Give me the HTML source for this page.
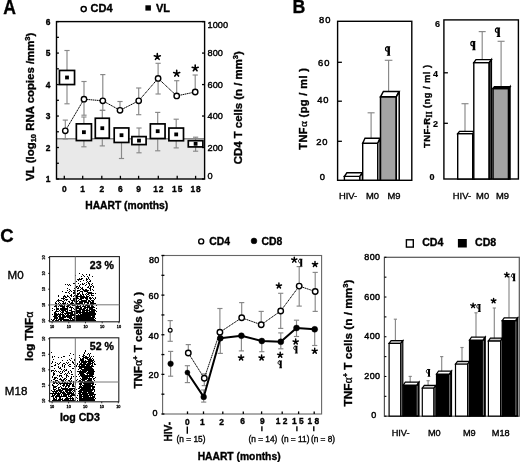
<!DOCTYPE html>
<html><head><meta charset="utf-8"><style>
html,body{margin:0;padding:0;background:#fff;width:520px;height:462px;overflow:hidden}
svg{display:block;font-family:"Liberation Sans",sans-serif;will-change:transform}
</style></head><body>
<svg width="520" height="462" viewBox="0 0 520 462">
<defs><filter id="bl" x="-5%" y="-5%" width="110%" height="110%"><feGaussianBlur stdDeviation="0.35"/></filter></defs>
<rect width="520" height="462" fill="#fff"/>
<text transform="translate(3.3 13.5) scale(1 1.1)" font-size="17.6" font-weight="bold" stroke="#000" stroke-width="0.3">A</text>
<circle cx="83.70" cy="9.10" r="2.55" fill="#fff" stroke="#000" stroke-width="1.5"/>
<text x="90.60" y="12.40" font-size="11" text-anchor="start" font-weight="bold" fill="#000" stroke="#000" stroke-width="0.35" >CD4</text>
<rect x="145.40" y="5.30" width="5.50" height="5.30" fill="#000" />
<text x="155.90" y="12.30" font-size="11" text-anchor="start" font-weight="bold" fill="#000" stroke="#000" stroke-width="0.35" >VL</text>
<rect x="56.50" y="138.50" width="148.10" height="40.50" fill="#e9e9e9" />
<line x1="56.50" y1="138.80" x2="204.60" y2="138.80" stroke="#8c8c8c" stroke-width="1.4" />
<rect x="56.50" y="21.60" width="148.10" height="157.40" fill="none" stroke="#000" stroke-width="1.4" />
<line x1="56.50" y1="179.00" x2="58.90" y2="179.00" stroke="#000" stroke-width="1.3" />
<line x1="56.50" y1="163.26" x2="58.90" y2="163.26" stroke="#000" stroke-width="1.3" />
<line x1="56.50" y1="147.52" x2="58.90" y2="147.52" stroke="#000" stroke-width="1.3" />
<line x1="56.50" y1="131.78" x2="58.90" y2="131.78" stroke="#000" stroke-width="1.3" />
<line x1="56.50" y1="116.04" x2="58.90" y2="116.04" stroke="#000" stroke-width="1.3" />
<line x1="56.50" y1="100.30" x2="58.90" y2="100.30" stroke="#000" stroke-width="1.3" />
<line x1="56.50" y1="84.56" x2="58.90" y2="84.56" stroke="#000" stroke-width="1.3" />
<line x1="56.50" y1="68.82" x2="58.90" y2="68.82" stroke="#000" stroke-width="1.3" />
<line x1="56.50" y1="53.08" x2="58.90" y2="53.08" stroke="#000" stroke-width="1.3" />
<line x1="56.50" y1="37.34" x2="58.90" y2="37.34" stroke="#000" stroke-width="1.3" />
<line x1="56.50" y1="21.60" x2="58.90" y2="21.60" stroke="#000" stroke-width="1.3" />
<text x="48.20" y="182.00" font-size="8.4" text-anchor="middle" font-weight="bold" fill="#000" stroke="#000" stroke-width="0.35" >1</text>
<text x="48.20" y="150.52" font-size="8.4" text-anchor="middle" font-weight="bold" fill="#000" stroke="#000" stroke-width="0.35" >2</text>
<text x="48.20" y="119.04" font-size="8.4" text-anchor="middle" font-weight="bold" fill="#000" stroke="#000" stroke-width="0.35" >3</text>
<text x="48.20" y="87.56" font-size="8.4" text-anchor="middle" font-weight="bold" fill="#000" stroke="#000" stroke-width="0.35" >4</text>
<text x="48.20" y="56.08" font-size="8.4" text-anchor="middle" font-weight="bold" fill="#000" stroke="#000" stroke-width="0.35" >5</text>
<text x="48.20" y="24.60" font-size="8.4" text-anchor="middle" font-weight="bold" fill="#000" stroke="#000" stroke-width="0.35" >6</text>
<line x1="202.00" y1="179.00" x2="204.60" y2="179.00" stroke="#000" stroke-width="1.3" />
<text x="207.60" y="179.30" font-size="9.2" text-anchor="start" font-weight="normal" fill="#000" stroke="#000" stroke-width="0.4" >0</text>
<line x1="202.00" y1="147.52" x2="204.60" y2="147.52" stroke="#000" stroke-width="1.3" />
<text x="207.60" y="150.82" font-size="9.2" text-anchor="start" font-weight="normal" fill="#000" stroke="#000" stroke-width="0.4" >200</text>
<line x1="202.00" y1="116.04" x2="204.60" y2="116.04" stroke="#000" stroke-width="1.3" />
<text x="207.60" y="119.34" font-size="9.2" text-anchor="start" font-weight="normal" fill="#000" stroke="#000" stroke-width="0.4" >400</text>
<line x1="202.00" y1="84.56" x2="204.60" y2="84.56" stroke="#000" stroke-width="1.3" />
<text x="207.60" y="87.86" font-size="9.2" text-anchor="start" font-weight="normal" fill="#000" stroke="#000" stroke-width="0.4" >600</text>
<line x1="202.00" y1="53.08" x2="204.60" y2="53.08" stroke="#000" stroke-width="1.3" />
<text x="207.60" y="56.38" font-size="9.2" text-anchor="start" font-weight="normal" fill="#000" stroke="#000" stroke-width="0.4" >800</text>
<line x1="202.00" y1="21.60" x2="204.60" y2="21.60" stroke="#000" stroke-width="1.3" />
<text x="207.60" y="28.20" font-size="9.2" text-anchor="start" font-weight="normal" fill="#000" stroke="#000" stroke-width="0.4" >1000</text>
<line x1="64.30" y1="179.00" x2="64.30" y2="175.80" stroke="#000" stroke-width="1.3" />
<text x="64.30" y="191.90" font-size="8.4" text-anchor="middle" font-weight="bold" fill="#000" stroke="#000" stroke-width="0.35" >0</text>
<line x1="82.70" y1="179.00" x2="82.70" y2="175.80" stroke="#000" stroke-width="1.3" />
<text x="82.70" y="191.90" font-size="8.4" text-anchor="middle" font-weight="bold" fill="#000" stroke="#000" stroke-width="0.35" >1</text>
<line x1="101.80" y1="179.00" x2="101.80" y2="175.80" stroke="#000" stroke-width="1.3" />
<text x="101.80" y="191.90" font-size="8.4" text-anchor="middle" font-weight="bold" fill="#000" stroke="#000" stroke-width="0.35" >2</text>
<line x1="120.40" y1="179.00" x2="120.40" y2="175.80" stroke="#000" stroke-width="1.3" />
<text x="120.40" y="191.90" font-size="8.4" text-anchor="middle" font-weight="bold" fill="#000" stroke="#000" stroke-width="0.35" >6</text>
<line x1="138.60" y1="179.00" x2="138.60" y2="175.80" stroke="#000" stroke-width="1.3" />
<text x="138.60" y="191.90" font-size="8.4" text-anchor="middle" font-weight="bold" fill="#000" stroke="#000" stroke-width="0.35" >9</text>
<line x1="158.30" y1="179.00" x2="158.30" y2="175.80" stroke="#000" stroke-width="1.3" />
<text x="158.80" y="191.90" font-size="8.4" text-anchor="middle" font-weight="bold" fill="#000" stroke="#000" stroke-width="0.35" letter-spacing="1.0">12</text>
<line x1="177.20" y1="179.00" x2="177.20" y2="175.80" stroke="#000" stroke-width="1.3" />
<text x="177.70" y="191.90" font-size="8.4" text-anchor="middle" font-weight="bold" fill="#000" stroke="#000" stroke-width="0.35" letter-spacing="1.0">15</text>
<line x1="195.60" y1="179.00" x2="195.60" y2="175.80" stroke="#000" stroke-width="1.3" />
<text x="196.10" y="191.90" font-size="8.4" text-anchor="middle" font-weight="bold" fill="#000" stroke="#000" stroke-width="0.35" letter-spacing="1.0">18</text>
<text x="126.70" y="208.60" font-size="10.3" text-anchor="middle" font-weight="bold" fill="#000" stroke="#000" stroke-width="0.35" >HAART (months)</text>
<text transform="translate(34.00 106.70) rotate(-90)" font-size="11.4" font-weight="bold" text-anchor="middle" stroke="#000" stroke-width="0.35" >VL  (log<tspan font-size="7.6" dy="2.2">10</tspan><tspan dy="-2.2"> RNA copies /mm</tspan><tspan font-size="7.6" dy="-4">3</tspan><tspan dy="4">)</tspan></text>
<text transform="translate(241.90 107.70) rotate(-90)" font-size="11.4" font-weight="bold" text-anchor="middle" stroke="#000" stroke-width="0.35" >CD4 T cells (n / mm<tspan font-size="7.6" dy="-4">3</tspan><tspan dy="4">)</tspan></text>
<line x1="67.00" y1="77.50" x2="67.00" y2="50.50" stroke="#888" stroke-width="1.15" />
<line x1="64.40" y1="50.50" x2="69.60" y2="50.50" stroke="#888" stroke-width="1.15" />
<line x1="67.00" y1="77.50" x2="67.00" y2="103.80" stroke="#888" stroke-width="1.15" />
<line x1="64.40" y1="103.80" x2="69.60" y2="103.80" stroke="#888" stroke-width="1.15" />
<line x1="83.90" y1="132.20" x2="83.90" y2="117.00" stroke="#888" stroke-width="1.15" />
<line x1="81.30" y1="117.00" x2="86.50" y2="117.00" stroke="#888" stroke-width="1.15" />
<line x1="83.90" y1="132.20" x2="83.90" y2="146.80" stroke="#888" stroke-width="1.15" />
<line x1="81.30" y1="146.80" x2="86.50" y2="146.80" stroke="#888" stroke-width="1.15" />
<line x1="102.30" y1="128.20" x2="102.30" y2="110.40" stroke="#888" stroke-width="1.15" />
<line x1="99.70" y1="110.40" x2="104.90" y2="110.40" stroke="#888" stroke-width="1.15" />
<line x1="102.30" y1="128.20" x2="102.30" y2="145.90" stroke="#888" stroke-width="1.15" />
<line x1="99.70" y1="145.90" x2="104.90" y2="145.90" stroke="#888" stroke-width="1.15" />
<line x1="121.50" y1="135.20" x2="121.50" y2="158.50" stroke="#888" stroke-width="1.15" />
<line x1="118.90" y1="158.50" x2="124.10" y2="158.50" stroke="#888" stroke-width="1.15" />
<line x1="139.00" y1="140.60" x2="139.00" y2="128.00" stroke="#888" stroke-width="1.15" />
<line x1="136.40" y1="128.00" x2="141.60" y2="128.00" stroke="#888" stroke-width="1.15" />
<line x1="139.00" y1="140.60" x2="139.00" y2="152.80" stroke="#888" stroke-width="1.15" />
<line x1="136.40" y1="152.80" x2="141.60" y2="152.80" stroke="#888" stroke-width="1.15" />
<line x1="157.70" y1="131.20" x2="157.70" y2="112.40" stroke="#888" stroke-width="1.15" />
<line x1="155.10" y1="112.40" x2="160.30" y2="112.40" stroke="#888" stroke-width="1.15" />
<line x1="157.70" y1="131.20" x2="157.70" y2="150.80" stroke="#888" stroke-width="1.15" />
<line x1="155.10" y1="150.80" x2="160.30" y2="150.80" stroke="#888" stroke-width="1.15" />
<line x1="176.20" y1="134.40" x2="176.20" y2="119.20" stroke="#888" stroke-width="1.15" />
<line x1="173.60" y1="119.20" x2="178.80" y2="119.20" stroke="#888" stroke-width="1.15" />
<line x1="176.20" y1="134.40" x2="176.20" y2="147.90" stroke="#888" stroke-width="1.15" />
<line x1="173.60" y1="147.90" x2="178.80" y2="147.90" stroke="#888" stroke-width="1.15" />
<line x1="195.60" y1="143.80" x2="195.60" y2="137.20" stroke="#888" stroke-width="1.15" />
<line x1="193.00" y1="137.20" x2="198.20" y2="137.20" stroke="#888" stroke-width="1.15" />
<line x1="195.60" y1="143.80" x2="195.60" y2="151.20" stroke="#888" stroke-width="1.15" />
<line x1="193.00" y1="151.20" x2="198.20" y2="151.20" stroke="#888" stroke-width="1.15" />
<line x1="65.30" y1="130.80" x2="65.30" y2="120.10" stroke="#888" stroke-width="1.15" />
<line x1="62.70" y1="120.10" x2="67.90" y2="120.10" stroke="#888" stroke-width="1.15" />
<line x1="65.30" y1="130.80" x2="65.30" y2="139.00" stroke="#888" stroke-width="1.15" />
<line x1="62.70" y1="139.00" x2="67.90" y2="139.00" stroke="#888" stroke-width="1.15" />
<line x1="84.00" y1="99.20" x2="84.00" y2="81.50" stroke="#888" stroke-width="1.15" />
<line x1="81.40" y1="81.50" x2="86.60" y2="81.50" stroke="#888" stroke-width="1.15" />
<line x1="84.00" y1="99.20" x2="84.00" y2="115.20" stroke="#888" stroke-width="1.15" />
<line x1="81.40" y1="115.20" x2="86.60" y2="115.20" stroke="#888" stroke-width="1.15" />
<line x1="102.80" y1="100.80" x2="102.80" y2="74.60" stroke="#888" stroke-width="1.15" />
<line x1="100.20" y1="74.60" x2="105.40" y2="74.60" stroke="#888" stroke-width="1.15" />
<line x1="102.80" y1="100.80" x2="102.80" y2="110.30" stroke="#888" stroke-width="1.15" />
<line x1="100.20" y1="110.30" x2="105.40" y2="110.30" stroke="#888" stroke-width="1.15" />
<line x1="120.00" y1="110.30" x2="120.00" y2="101.50" stroke="#888" stroke-width="1.15" />
<line x1="117.40" y1="101.50" x2="122.60" y2="101.50" stroke="#888" stroke-width="1.15" />
<line x1="138.70" y1="100.80" x2="138.70" y2="88.00" stroke="#888" stroke-width="1.15" />
<line x1="136.10" y1="88.00" x2="141.30" y2="88.00" stroke="#888" stroke-width="1.15" />
<line x1="138.70" y1="100.80" x2="138.70" y2="114.70" stroke="#888" stroke-width="1.15" />
<line x1="136.10" y1="114.70" x2="141.30" y2="114.70" stroke="#888" stroke-width="1.15" />
<line x1="158.10" y1="78.40" x2="158.10" y2="63.30" stroke="#888" stroke-width="1.15" />
<line x1="155.50" y1="63.30" x2="160.70" y2="63.30" stroke="#888" stroke-width="1.15" />
<line x1="158.10" y1="78.40" x2="158.10" y2="94.00" stroke="#888" stroke-width="1.15" />
<line x1="155.50" y1="94.00" x2="160.70" y2="94.00" stroke="#888" stroke-width="1.15" />
<line x1="176.70" y1="95.90" x2="176.70" y2="80.70" stroke="#888" stroke-width="1.15" />
<line x1="174.10" y1="80.70" x2="179.30" y2="80.70" stroke="#888" stroke-width="1.15" />
<line x1="195.20" y1="92.00" x2="195.20" y2="75.00" stroke="#888" stroke-width="1.15" />
<line x1="192.60" y1="75.00" x2="197.80" y2="75.00" stroke="#888" stroke-width="1.15" />
<rect x="59.45" y="70.45" width="15.10" height="14.10" fill="#fff" stroke="#000" stroke-width="1.7" />
<rect x="65.10" y="75.60" width="3.80" height="3.80" fill="#000" />
<rect x="76.35" y="123.85" width="15.10" height="16.70" fill="#fff" stroke="#000" stroke-width="1.7" />
<rect x="82.00" y="130.30" width="3.80" height="3.80" fill="#000" />
<rect x="95.30" y="118.25" width="14.00" height="19.90" fill="#fff" stroke="#000" stroke-width="1.7" />
<rect x="100.40" y="126.30" width="3.80" height="3.80" fill="#000" />
<rect x="114.20" y="127.95" width="14.60" height="14.50" fill="#fff" stroke="#000" stroke-width="1.7" />
<rect x="119.60" y="133.30" width="3.80" height="3.80" fill="#000" />
<rect x="131.90" y="136.60" width="14.20" height="8.00" fill="#fff" stroke="#000" stroke-width="1.7" />
<rect x="137.10" y="138.70" width="3.80" height="3.80" fill="#000" />
<rect x="150.35" y="123.90" width="14.70" height="14.60" fill="#fff" stroke="#000" stroke-width="1.7" />
<rect x="155.80" y="129.30" width="3.80" height="3.80" fill="#000" />
<rect x="168.90" y="128.05" width="14.60" height="12.70" fill="#fff" stroke="#000" stroke-width="1.7" />
<rect x="174.30" y="132.50" width="3.80" height="3.80" fill="#000" />
<rect x="188.30" y="140.70" width="14.60" height="6.20" fill="#fff" stroke="#000" stroke-width="1.7" />
<rect x="193.70" y="141.90" width="3.80" height="3.80" fill="#000" />
<polyline points="65.30,130.80 84.00,99.20 102.80,100.80 120.00,110.30 138.70,100.80 158.10,78.40 176.70,95.90 195.20,92.00" fill="none" stroke="#000" stroke-width="1.0" stroke-linejoin="round" stroke-dasharray="1.4 0.5"/>
<circle cx="65.30" cy="130.80" r="2.7" fill="#fff" stroke="#000" stroke-width="1.4"/>
<circle cx="84.00" cy="99.20" r="2.7" fill="#fff" stroke="#000" stroke-width="1.4"/>
<circle cx="102.80" cy="100.80" r="2.7" fill="#fff" stroke="#000" stroke-width="1.4"/>
<circle cx="120.00" cy="110.30" r="2.7" fill="#fff" stroke="#000" stroke-width="1.4"/>
<circle cx="138.70" cy="100.80" r="2.7" fill="#fff" stroke="#000" stroke-width="1.4"/>
<circle cx="158.10" cy="78.40" r="2.7" fill="#fff" stroke="#000" stroke-width="1.4"/>
<circle cx="176.70" cy="95.90" r="2.7" fill="#fff" stroke="#000" stroke-width="1.4"/>
<circle cx="195.20" cy="92.00" r="2.7" fill="#fff" stroke="#000" stroke-width="1.4"/>
<path d="M157.30 56.80L157.30 53.65M157.30 56.80L160.30 55.83M157.30 56.80L159.15 59.35M157.30 56.80L155.45 59.35M157.30 56.80L154.30 55.83" stroke="#000" stroke-width="1.6" stroke-linecap="round" fill="none"/>
<path d="M176.70 73.50L176.70 70.35M176.70 73.50L179.70 72.53M176.70 73.50L178.55 76.05M176.70 73.50L174.85 76.05M176.70 73.50L173.70 72.53" stroke="#000" stroke-width="1.6" stroke-linecap="round" fill="none"/>
<path d="M195.20 68.20L195.20 65.05M195.20 68.20L198.20 67.23M195.20 68.20L197.05 70.75M195.20 68.20L193.35 70.75M195.20 68.20L192.20 67.23" stroke="#000" stroke-width="1.6" stroke-linecap="round" fill="none"/>
<text transform="translate(292.6 12.9) scale(1 1.08)" font-size="17.8" font-weight="bold" stroke="#000" stroke-width="0.3">B</text>
<rect x="337.60" y="21.30" width="74.20" height="159.00" fill="none" stroke="#000" stroke-width="1.4" />
<line x1="337.60" y1="62.30" x2="341.90" y2="62.30" stroke="#000" stroke-width="1.3" />
<line x1="337.60" y1="101.20" x2="341.90" y2="101.20" stroke="#000" stroke-width="1.3" />
<line x1="337.60" y1="141.30" x2="341.90" y2="141.30" stroke="#000" stroke-width="1.3" />
<text x="325.15" y="22.90" font-size="9.4" text-anchor="middle" font-weight="normal" fill="#000" stroke="#000" stroke-width="0.45" letter-spacing="0.9">80</text>
<text x="324.15" y="66.20" font-size="9.4" text-anchor="middle" font-weight="normal" fill="#000" stroke="#000" stroke-width="0.45" letter-spacing="0.9">60</text>
<text x="323.30" y="102.80" font-size="9.4" text-anchor="middle" font-weight="normal" fill="#000" stroke="#000" stroke-width="0.45" letter-spacing="0.9">40</text>
<text x="322.35" y="145.20" font-size="9.4" text-anchor="middle" font-weight="normal" fill="#000" stroke="#000" stroke-width="0.45" letter-spacing="0.9">20</text>
<text x="322.75" y="180.30" font-size="9.4" text-anchor="middle" font-weight="normal" fill="#000" stroke="#000" stroke-width="0.45" letter-spacing="0.9">0</text>
<text transform="translate(307.00 108.60) rotate(-90)" font-size="11.0" font-weight="bold" text-anchor="middle" stroke="#000" stroke-width="0.35" letter-spacing="0.4">TNF<tspan font-weight="normal" font-family="Liberation Serif" stroke-width="0.35">&#945;</tspan> (pg / ml )</text>
<line x1="371.10" y1="143.00" x2="371.10" y2="112.80" stroke="#888" stroke-width="1.15" />
<line x1="367.60" y1="112.80" x2="374.60" y2="112.80" stroke="#888" stroke-width="1.15" />
<line x1="388.60" y1="92.00" x2="388.60" y2="60.30" stroke="#888" stroke-width="1.15" />
<line x1="384.80" y1="60.30" x2="392.40" y2="60.30" stroke="#888" stroke-width="1.15" />
<polygon points="344.40,176.40 359.90,176.40 359.90,180.30 344.40,180.30" fill="#fff" stroke="#000" stroke-width="1.4" stroke-linejoin="miter" />
<polygon points="344.40,176.40 346.90,172.80 362.40,172.80 359.90,176.40" fill="#fff" stroke="#000" stroke-width="1.4" stroke-linejoin="miter" />
<polygon points="359.90,176.40 362.40,172.80 362.40,180.30 359.90,180.30" fill="#fff" stroke="#000" stroke-width="1.4" stroke-linejoin="miter" />
<polygon points="362.70,143.20 377.80,143.20 377.80,180.30 362.70,180.30" fill="#fff" stroke="#000" stroke-width="1.4" stroke-linejoin="miter" />
<polygon points="362.70,143.20 365.00,138.20 380.10,138.20 377.80,143.20" fill="#fff" stroke="#000" stroke-width="1.4" stroke-linejoin="miter" />
<polygon points="377.80,143.20 380.10,138.20 380.10,180.30 377.80,180.30" fill="#fff" stroke="#000" stroke-width="1.4" stroke-linejoin="miter" />
<polygon points="380.50,96.80 396.30,96.80 396.30,180.30 380.50,180.30" fill="#a3a3a3" stroke="#000" stroke-width="1.5" stroke-linejoin="miter" />
<polygon points="380.50,96.80 383.40,91.40 399.20,91.40 396.30,96.80" fill="#fff" stroke="#000" stroke-width="1.5" stroke-linejoin="miter" />
<polygon points="396.30,96.80 399.20,91.40 399.20,180.30 396.30,180.30" fill="#fff" stroke="#000" stroke-width="1.5" stroke-linejoin="miter" />
<path d="M386.50 46.28L390.21 46.28L390.21 47.19L386.50 47.19ZM387.50 46.28L389.91 46.28L389.91 55.71L387.50 55.71ZM386.80 54.91L390.31 54.91L390.31 55.71L386.80 55.71Z" fill="#000"/>
<path d="M387.80 46.79C386.10 46.79 385.49 47.79 385.49 49.09C385.49 50.40 386.20 51.30 387.80 51.30" fill="none" stroke="#000" stroke-width="1.15"/>
<text x="348.10" y="198.90" font-size="9.4" text-anchor="middle" font-weight="normal" fill="#000" stroke="#000" stroke-width="0.35" >HIV-</text>
<text x="372.40" y="198.90" font-size="9.4" text-anchor="middle" font-weight="normal" fill="#000" stroke="#000" stroke-width="0.35" >M0</text>
<text x="394.00" y="198.90" font-size="9.4" text-anchor="middle" font-weight="normal" fill="#000" stroke="#000" stroke-width="0.35" >M9</text>
<rect x="443.90" y="19.90" width="74.50" height="159.10" fill="none" stroke="#000" stroke-width="1.4" />
<line x1="443.90" y1="72.80" x2="447.90" y2="72.80" stroke="#000" stroke-width="1.3" />
<line x1="443.90" y1="123.30" x2="447.90" y2="123.30" stroke="#000" stroke-width="1.3" />
<text x="437.50" y="26.60" font-size="9.0" text-anchor="middle" font-weight="bold" fill="#000" stroke="#000" stroke-width="0.2" >6</text>
<text x="435.50" y="76.50" font-size="9.0" text-anchor="middle" font-weight="bold" fill="#000" stroke="#000" stroke-width="0.2" >4</text>
<text x="435.60" y="127.10" font-size="9.0" text-anchor="middle" font-weight="bold" fill="#000" stroke="#000" stroke-width="0.2" >2</text>
<text x="432.10" y="179.70" font-size="9.0" text-anchor="middle" font-weight="bold" fill="#000" stroke="#000" stroke-width="0.2" >0</text>
<text transform="translate(430.00 106.20) rotate(-90)" font-size="9.4" font-weight="bold" text-anchor="middle" stroke="#000" stroke-width="0.35" letter-spacing="0.45">TNF-R<tspan font-size="7.2" dy="1.8" font-family="Liberation Serif">II</tspan><tspan dy="-1.8"> (ng / ml )</tspan></text>
<line x1="465.00" y1="133.00" x2="465.00" y2="103.70" stroke="#888" stroke-width="1.15" />
<line x1="461.50" y1="103.70" x2="468.50" y2="103.70" stroke="#888" stroke-width="1.15" />
<line x1="482.20" y1="61.00" x2="482.20" y2="31.60" stroke="#888" stroke-width="1.15" />
<line x1="478.70" y1="31.60" x2="485.70" y2="31.60" stroke="#888" stroke-width="1.15" />
<line x1="501.10" y1="87.00" x2="501.10" y2="41.30" stroke="#888" stroke-width="1.15" />
<line x1="497.60" y1="41.30" x2="504.60" y2="41.30" stroke="#888" stroke-width="1.15" />
<polygon points="457.70,133.60 472.70,133.60 472.70,179.00 457.70,179.00" fill="#fff" stroke="#000" stroke-width="1.4" stroke-linejoin="miter" />
<polygon points="457.70,133.60 459.50,131.40 474.50,131.40 472.70,133.60" fill="#fff" stroke="#000" stroke-width="1.4" stroke-linejoin="miter" />
<polygon points="472.70,133.60 474.50,131.40 474.50,179.00 472.70,179.00" fill="#555" stroke="#000" stroke-width="1.4" stroke-linejoin="miter" />
<polygon points="473.80,62.60 489.20,62.60 489.20,179.00 473.80,179.00" fill="#fff" stroke="#000" stroke-width="1.4" stroke-linejoin="miter" />
<polygon points="473.80,62.60 476.00,59.60 491.40,59.60 489.20,62.60" fill="#fff" stroke="#000" stroke-width="1.4" stroke-linejoin="miter" />
<polygon points="489.20,62.60 491.40,59.60 491.40,179.00 489.20,179.00" fill="#555" stroke="#000" stroke-width="1.4" stroke-linejoin="miter" />
<polygon points="493.00,88.60 508.60,88.60 508.60,179.00 493.00,179.00" fill="#a3a3a3" stroke="#000" stroke-width="1.5" stroke-linejoin="miter" />
<polygon points="493.00,88.60 494.40,86.80 510.00,86.80 508.60,88.60" fill="#000" stroke="#000" stroke-width="1.5" stroke-linejoin="miter" />
<polygon points="508.60,88.60 510.00,86.80 510.00,179.00 508.60,179.00" fill="#333" stroke="#000" stroke-width="1.5" stroke-linejoin="miter" />
<path d="M471.80 40.89L475.51 40.89L475.51 41.79L471.80 41.79ZM472.80 40.89L475.21 40.89L475.21 50.32L472.80 50.32ZM472.10 49.51L475.61 49.51L475.61 50.32L472.10 50.32Z" fill="#000"/>
<path d="M473.10 41.39C471.40 41.39 470.79 42.39 470.79 43.69C470.79 45.00 471.50 45.90 473.10 45.90" fill="none" stroke="#000" stroke-width="1.15"/>
<path d="M496.40 27.49L500.11 27.49L500.11 28.39L496.40 28.39ZM497.40 27.49L499.81 27.49L499.81 36.92L497.40 36.92ZM496.70 36.11L500.21 36.11L500.21 36.92L496.70 36.92Z" fill="#000"/>
<path d="M497.70 27.99C496.00 27.99 495.39 28.99 495.39 30.29C495.39 31.60 496.10 32.50 497.70 32.50" fill="none" stroke="#000" stroke-width="1.15"/>
<text x="461.90" y="198.90" font-size="9.4" text-anchor="middle" font-weight="normal" fill="#000" stroke="#000" stroke-width="0.35" >HIV-</text>
<text x="482.60" y="198.90" font-size="9.4" text-anchor="middle" font-weight="normal" fill="#000" stroke="#000" stroke-width="0.35" >M0</text>
<text x="502.50" y="198.90" font-size="9.4" text-anchor="middle" font-weight="normal" fill="#000" stroke="#000" stroke-width="0.35" >M9</text>
<text x="0.20" y="242.30" font-size="18.5" text-anchor="start" font-weight="bold" fill="#000" stroke="#000" stroke-width="0.35" >C</text>
<text x="7.60" y="279.20" font-size="11.6" text-anchor="start" font-weight="normal" fill="#000" stroke="#000" stroke-width="0.35" >M0</text>
<text x="4.80" y="395.30" font-size="11.6" text-anchor="start" font-weight="normal" fill="#000" stroke="#000" stroke-width="0.35" >M18</text>
<path d="M79 273h1v1h-1zM82 274h1v1h-1zM86 274h1v1h-1zM89 274h1v1h-1zM75 275h1v1h-1zM83 275h1v1h-1zM89 275h1v1h-1zM81 276h1v1h-1zM84 276h1v1h-1zM87 276h1v1h-1zM92 276h1v1h-1zM88 277h1v1h-1zM79 278h1v1h-1zM81 278h1v1h-1zM82 278h1v1h-1zM86 278h1v1h-1zM88 278h1v1h-1zM77 279h1v1h-1zM78 279h1v1h-1zM79 279h1v1h-1zM80 279h1v1h-1zM81 279h1v1h-1zM86 279h1v1h-1zM87 279h1v1h-1zM89 279h1v1h-1zM78 280h1v1h-1zM83 280h1v1h-1zM86 280h1v1h-1zM90 280h1v1h-1zM76 281h1v1h-1zM80 281h1v1h-1zM87 281h1v1h-1zM89 281h1v1h-1zM90 281h1v1h-1zM86 282h1v1h-1zM88 282h1v1h-1zM73 283h1v1h-1zM74 283h1v1h-1zM78 283h1v1h-1zM82 283h1v1h-1zM84 283h1v1h-1zM88 283h1v1h-1zM89 283h1v1h-1zM92 283h1v1h-1zM65 284h1v1h-1zM67 284h1v1h-1zM69 284h1v1h-1zM80 284h1v1h-1zM82 284h1v1h-1zM83 284h1v1h-1zM86 284h1v1h-1zM89 284h1v1h-1zM91 284h1v1h-1zM68 285h1v1h-1zM70 285h1v1h-1zM75 285h1v1h-1zM79 285h1v1h-1zM85 285h1v1h-1zM89 285h1v1h-1zM92 285h1v1h-1zM76 286h1v1h-1zM77 286h1v1h-1zM79 286h1v1h-1zM88 286h1v1h-1zM90 286h1v1h-1zM91 286h1v1h-1zM93 286h1v1h-1zM75 287h1v1h-1zM76 287h1v1h-1zM78 287h1v1h-1zM80 287h1v1h-1zM82 287h1v1h-1zM87 287h1v1h-1zM88 287h1v1h-1zM90 287h1v1h-1zM93 287h1v1h-1zM67 288h1v1h-1zM74 288h1v1h-1zM77 288h1v1h-1zM78 288h1v1h-1zM81 288h1v1h-1zM82 288h1v1h-1zM89 288h1v1h-1zM90 288h1v1h-1zM69 289h1v1h-1zM75 289h1v1h-1zM80 289h1v1h-1zM82 289h1v1h-1zM83 289h1v1h-1zM85 289h1v1h-1zM86 289h1v1h-1zM90 289h1v1h-1zM92 289h1v1h-1zM67 290h1v1h-1zM70 290h1v1h-1zM73 290h1v1h-1zM74 290h1v1h-1zM75 290h1v1h-1zM77 290h1v1h-1zM78 290h1v1h-1zM79 290h1v1h-1zM83 290h1v1h-1zM84 290h1v1h-1zM85 290h1v1h-1zM86 290h1v1h-1zM87 290h1v1h-1zM88 290h1v1h-1zM90 290h1v1h-1zM93 290h1v1h-1zM62 291h1v1h-1zM69 291h1v1h-1zM71 291h1v1h-1zM74 291h1v1h-1zM77 291h1v1h-1zM80 291h1v1h-1zM81 291h1v1h-1zM82 291h1v1h-1zM84 291h1v1h-1zM85 291h1v1h-1zM86 291h1v1h-1zM87 291h1v1h-1zM65 292h1v1h-1zM66 292h1v1h-1zM68 292h1v1h-1zM73 292h1v1h-1zM74 292h1v1h-1zM75 292h1v1h-1zM79 292h1v1h-1zM82 292h1v1h-1zM87 292h1v1h-1zM88 292h1v1h-1zM89 292h1v1h-1zM90 292h1v1h-1zM91 292h1v1h-1zM69 293h1v1h-1zM73 293h1v1h-1zM74 293h1v1h-1zM75 293h1v1h-1zM77 293h1v1h-1zM78 293h1v1h-1zM79 293h1v1h-1zM82 293h1v1h-1zM86 293h1v1h-1zM88 293h1v1h-1zM89 293h1v1h-1zM90 293h1v1h-1zM91 293h1v1h-1zM92 293h1v1h-1zM93 293h1v1h-1zM95 293h1v1h-1zM71 294h1v1h-1zM75 294h1v1h-1zM77 294h1v1h-1zM78 294h1v1h-1zM80 294h1v1h-1zM82 294h1v1h-1zM83 294h1v1h-1zM85 294h1v1h-1zM87 294h1v1h-1zM88 294h1v1h-1zM91 294h1v1h-1zM58 295h1v1h-1zM64 295h1v1h-1zM67 295h1v1h-1zM70 295h1v1h-1zM71 295h1v1h-1zM74 295h1v1h-1zM75 295h1v1h-1zM76 295h1v1h-1zM77 295h1v1h-1zM80 295h1v1h-1zM81 295h1v1h-1zM83 295h1v1h-1zM86 295h1v1h-1zM89 295h1v1h-1zM91 295h1v1h-1zM92 295h1v1h-1zM93 295h1v1h-1zM58 296h1v1h-1zM63 296h1v1h-1zM64 296h1v1h-1zM65 296h1v1h-1zM67 296h1v1h-1zM68 296h1v1h-1zM71 296h1v1h-1zM73 296h1v1h-1zM75 296h1v1h-1zM76 296h1v1h-1zM77 296h1v1h-1zM78 296h1v1h-1zM79 296h1v1h-1zM80 296h1v1h-1zM81 296h1v1h-1zM82 296h1v1h-1zM83 296h1v1h-1zM84 296h1v1h-1zM86 296h1v1h-1zM87 296h1v1h-1zM88 296h1v1h-1zM63 297h1v1h-1zM65 297h1v1h-1zM66 297h1v1h-1zM69 297h1v1h-1zM76 297h1v1h-1zM77 297h1v1h-1zM80 297h1v1h-1zM81 297h1v1h-1zM82 297h1v1h-1zM83 297h1v1h-1zM84 297h1v1h-1zM85 297h1v1h-1zM86 297h1v1h-1zM87 297h1v1h-1zM89 297h1v1h-1zM90 297h1v1h-1zM92 297h1v1h-1zM95 297h1v1h-1zM61 298h1v1h-1zM62 298h1v1h-1zM63 298h1v1h-1zM64 298h1v1h-1zM70 298h1v1h-1zM73 298h1v1h-1zM74 298h1v1h-1zM75 298h1v1h-1zM76 298h1v1h-1zM77 298h1v1h-1zM78 298h1v1h-1zM80 298h1v1h-1zM81 298h1v1h-1zM82 298h1v1h-1zM83 298h1v1h-1zM85 298h1v1h-1zM86 298h1v1h-1zM87 298h1v1h-1zM89 298h1v1h-1zM90 298h1v1h-1zM91 298h1v1h-1zM93 298h1v1h-1zM95 298h1v1h-1zM58 299h1v1h-1zM63 299h1v1h-1zM65 299h1v1h-1zM66 299h1v1h-1zM67 299h1v1h-1zM70 299h1v1h-1zM73 299h1v1h-1zM74 299h1v1h-1zM76 299h1v1h-1zM79 299h1v1h-1zM80 299h1v1h-1zM81 299h1v1h-1zM86 299h1v1h-1zM87 299h1v1h-1zM90 299h1v1h-1zM94 299h1v1h-1zM57 300h1v1h-1zM58 300h1v1h-1zM59 300h1v1h-1zM60 300h1v1h-1zM61 300h1v1h-1zM64 300h1v1h-1zM66 300h1v1h-1zM71 300h1v1h-1zM72 300h1v1h-1zM73 300h1v1h-1zM74 300h1v1h-1zM76 300h1v1h-1zM78 300h1v1h-1zM81 300h1v1h-1zM82 300h1v1h-1zM83 300h1v1h-1zM84 300h1v1h-1zM85 300h1v1h-1zM86 300h1v1h-1zM88 300h1v1h-1zM89 300h1v1h-1zM91 300h1v1h-1zM92 300h1v1h-1zM93 300h1v1h-1zM56 301h1v1h-1zM58 301h1v1h-1zM62 301h1v1h-1zM63 301h1v1h-1zM68 301h1v1h-1zM69 301h1v1h-1zM72 301h1v1h-1zM74 301h1v1h-1zM75 301h1v1h-1zM76 301h1v1h-1zM77 301h1v1h-1zM79 301h1v1h-1zM80 301h1v1h-1zM81 301h1v1h-1zM82 301h1v1h-1zM83 301h1v1h-1zM84 301h1v1h-1zM85 301h1v1h-1zM86 301h1v1h-1zM88 301h1v1h-1zM89 301h1v1h-1zM90 301h1v1h-1zM92 301h1v1h-1zM93 301h1v1h-1zM55 302h1v1h-1zM59 302h1v1h-1zM63 302h1v1h-1zM65 302h1v1h-1zM69 302h1v1h-1zM71 302h1v1h-1zM72 302h1v1h-1zM75 302h1v1h-1zM76 302h1v1h-1zM79 302h1v1h-1zM80 302h1v1h-1zM81 302h1v1h-1zM82 302h1v1h-1zM84 302h1v1h-1zM85 302h1v1h-1zM86 302h1v1h-1zM87 302h1v1h-1zM88 302h1v1h-1zM90 302h1v1h-1zM91 302h1v1h-1zM92 302h1v1h-1zM93 302h1v1h-1zM55 303h1v1h-1zM56 303h1v1h-1zM58 303h1v1h-1zM60 303h1v1h-1zM62 303h1v1h-1zM63 303h1v1h-1zM64 303h1v1h-1zM65 303h1v1h-1zM67 303h1v1h-1zM70 303h1v1h-1zM71 303h1v1h-1zM72 303h1v1h-1zM73 303h1v1h-1zM75 303h1v1h-1zM76 303h1v1h-1zM77 303h1v1h-1zM78 303h1v1h-1zM79 303h1v1h-1zM80 303h1v1h-1zM81 303h1v1h-1zM82 303h1v1h-1zM84 303h1v1h-1zM87 303h1v1h-1zM88 303h1v1h-1zM90 303h1v1h-1zM91 303h1v1h-1zM92 303h1v1h-1zM93 303h1v1h-1zM94 303h1v1h-1zM95 303h1v1h-1zM56 304h1v1h-1zM59 304h1v1h-1zM61 304h1v1h-1zM63 304h1v1h-1zM64 304h1v1h-1zM68 304h1v1h-1zM69 304h1v1h-1zM70 304h1v1h-1zM71 304h1v1h-1zM72 304h1v1h-1zM74 304h1v1h-1zM75 304h1v1h-1zM76 304h1v1h-1zM77 304h1v1h-1zM78 304h1v1h-1zM79 304h1v1h-1zM82 304h1v1h-1zM83 304h1v1h-1zM86 304h1v1h-1zM87 304h1v1h-1zM90 304h1v1h-1zM91 304h1v1h-1zM92 304h1v1h-1zM93 304h1v1h-1zM55 305h1v1h-1zM56 305h1v1h-1zM59 305h1v1h-1zM60 305h1v1h-1zM61 305h1v1h-1zM62 305h1v1h-1zM64 305h1v1h-1zM67 305h1v1h-1zM68 305h1v1h-1zM69 305h1v1h-1zM72 305h1v1h-1zM73 305h1v1h-1zM74 305h1v1h-1zM75 305h1v1h-1zM77 305h1v1h-1zM80 305h1v1h-1zM83 305h1v1h-1zM85 305h1v1h-1zM86 305h1v1h-1zM87 305h1v1h-1zM88 305h1v1h-1zM89 305h1v1h-1zM91 305h1v1h-1zM92 305h1v1h-1zM96 305h1v1h-1zM54 306h1v1h-1zM55 306h1v1h-1zM56 306h1v1h-1zM58 306h1v1h-1zM60 306h1v1h-1zM61 306h1v1h-1zM62 306h1v1h-1zM63 306h1v1h-1zM64 306h1v1h-1zM66 306h1v1h-1zM67 306h1v1h-1zM68 306h1v1h-1zM70 306h1v1h-1zM75 306h1v1h-1zM76 306h1v1h-1zM77 306h1v1h-1zM78 306h1v1h-1zM79 306h1v1h-1zM80 306h1v1h-1zM82 306h1v1h-1zM83 306h1v1h-1zM84 306h1v1h-1zM85 306h1v1h-1zM87 306h1v1h-1zM88 306h1v1h-1zM89 306h1v1h-1zM91 306h1v1h-1zM92 306h1v1h-1zM93 306h1v1h-1zM56 307h1v1h-1zM62 307h1v1h-1zM63 307h1v1h-1zM64 307h1v1h-1zM67 307h1v1h-1zM69 307h1v1h-1zM70 307h1v1h-1zM71 307h1v1h-1zM72 307h1v1h-1zM75 307h1v1h-1zM76 307h1v1h-1zM77 307h1v1h-1zM78 307h1v1h-1zM80 307h1v1h-1zM81 307h1v1h-1zM84 307h1v1h-1zM85 307h1v1h-1zM86 307h1v1h-1zM87 307h1v1h-1zM88 307h1v1h-1zM89 307h1v1h-1zM90 307h1v1h-1zM91 307h1v1h-1zM92 307h1v1h-1zM93 307h1v1h-1zM94 307h1v1h-1zM52 308h1v1h-1zM56 308h1v1h-1zM57 308h1v1h-1zM58 308h1v1h-1zM60 308h1v1h-1zM61 308h1v1h-1zM62 308h1v1h-1zM63 308h1v1h-1zM64 308h1v1h-1zM65 308h1v1h-1zM66 308h1v1h-1zM67 308h1v1h-1zM71 308h1v1h-1zM73 308h1v1h-1zM75 308h1v1h-1zM76 308h1v1h-1zM77 308h1v1h-1zM78 308h1v1h-1zM79 308h1v1h-1zM80 308h1v1h-1zM81 308h1v1h-1zM83 308h1v1h-1zM84 308h1v1h-1zM85 308h1v1h-1zM87 308h1v1h-1zM89 308h1v1h-1zM90 308h1v1h-1zM91 308h1v1h-1zM92 308h1v1h-1zM96 308h1v1h-1zM54 309h1v1h-1zM56 309h1v1h-1zM57 309h1v1h-1zM58 309h1v1h-1zM60 309h1v1h-1zM61 309h1v1h-1zM62 309h1v1h-1zM63 309h1v1h-1zM64 309h1v1h-1zM65 309h1v1h-1zM66 309h1v1h-1zM67 309h1v1h-1zM71 309h1v1h-1zM74 309h1v1h-1zM75 309h1v1h-1zM76 309h1v1h-1zM79 309h1v1h-1zM80 309h1v1h-1zM81 309h1v1h-1zM82 309h1v1h-1zM83 309h1v1h-1zM84 309h1v1h-1zM86 309h1v1h-1zM87 309h1v1h-1zM89 309h1v1h-1zM90 309h1v1h-1zM91 309h1v1h-1zM92 309h1v1h-1zM93 309h1v1h-1zM94 309h1v1h-1zM52 310h1v1h-1zM56 310h1v1h-1zM59 310h1v1h-1zM61 310h1v1h-1zM62 310h1v1h-1zM63 310h1v1h-1zM64 310h1v1h-1zM65 310h1v1h-1zM67 310h1v1h-1zM69 310h1v1h-1zM70 310h1v1h-1zM71 310h1v1h-1zM75 310h1v1h-1zM76 310h1v1h-1zM77 310h1v1h-1zM78 310h1v1h-1zM79 310h1v1h-1zM80 310h1v1h-1zM82 310h1v1h-1zM83 310h1v1h-1zM84 310h1v1h-1zM85 310h1v1h-1zM86 310h1v1h-1zM87 310h1v1h-1zM88 310h1v1h-1zM89 310h1v1h-1zM91 310h1v1h-1zM92 310h1v1h-1zM93 310h1v1h-1zM94 310h1v1h-1zM95 310h1v1h-1zM55 311h1v1h-1zM56 311h1v1h-1zM57 311h1v1h-1zM58 311h1v1h-1zM60 311h1v1h-1zM62 311h1v1h-1zM63 311h1v1h-1zM65 311h1v1h-1zM66 311h1v1h-1zM67 311h1v1h-1zM71 311h1v1h-1zM72 311h1v1h-1zM73 311h1v1h-1zM74 311h1v1h-1zM75 311h1v1h-1zM76 311h1v1h-1zM77 311h1v1h-1zM78 311h1v1h-1zM79 311h1v1h-1zM80 311h1v1h-1zM82 311h1v1h-1zM83 311h1v1h-1zM84 311h1v1h-1zM86 311h1v1h-1zM87 311h1v1h-1zM89 311h1v1h-1zM90 311h1v1h-1zM91 311h1v1h-1zM92 311h1v1h-1zM93 311h1v1h-1zM94 311h1v1h-1zM96 311h1v1h-1zM54 312h1v1h-1zM55 312h1v1h-1zM61 312h1v1h-1zM62 312h1v1h-1zM63 312h1v1h-1zM66 312h1v1h-1zM67 312h1v1h-1zM68 312h1v1h-1zM69 312h1v1h-1zM70 312h1v1h-1zM71 312h1v1h-1zM72 312h1v1h-1zM74 312h1v1h-1zM76 312h1v1h-1zM77 312h1v1h-1zM78 312h1v1h-1zM79 312h1v1h-1zM80 312h1v1h-1zM81 312h1v1h-1zM82 312h1v1h-1zM83 312h1v1h-1zM84 312h1v1h-1zM85 312h1v1h-1zM86 312h1v1h-1zM87 312h1v1h-1zM88 312h1v1h-1zM89 312h1v1h-1zM90 312h1v1h-1zM91 312h1v1h-1zM92 312h1v1h-1zM93 312h1v1h-1zM94 312h1v1h-1zM54 313h1v1h-1zM55 313h1v1h-1zM56 313h1v1h-1zM58 313h1v1h-1zM60 313h1v1h-1zM62 313h1v1h-1zM64 313h1v1h-1zM65 313h1v1h-1zM66 313h1v1h-1zM67 313h1v1h-1zM68 313h1v1h-1zM69 313h1v1h-1zM70 313h1v1h-1zM71 313h1v1h-1zM72 313h1v1h-1zM74 313h1v1h-1zM75 313h1v1h-1zM76 313h1v1h-1zM77 313h1v1h-1zM79 313h1v1h-1zM80 313h1v1h-1zM82 313h1v1h-1zM83 313h1v1h-1zM84 313h1v1h-1zM85 313h1v1h-1zM86 313h1v1h-1zM87 313h1v1h-1zM88 313h1v1h-1zM89 313h1v1h-1zM90 313h1v1h-1zM91 313h1v1h-1zM92 313h1v1h-1zM93 313h1v1h-1zM94 313h1v1h-1zM95 313h1v1h-1zM52 314h1v1h-1zM54 314h1v1h-1zM55 314h1v1h-1zM56 314h1v1h-1zM57 314h1v1h-1zM58 314h1v1h-1zM59 314h1v1h-1zM60 314h1v1h-1zM61 314h1v1h-1zM62 314h1v1h-1zM63 314h1v1h-1zM65 314h1v1h-1zM67 314h1v1h-1zM68 314h1v1h-1zM70 314h1v1h-1zM71 314h1v1h-1zM72 314h1v1h-1zM73 314h1v1h-1zM74 314h1v1h-1zM75 314h1v1h-1zM78 314h1v1h-1zM80 314h1v1h-1zM81 314h1v1h-1zM82 314h1v1h-1zM83 314h1v1h-1zM84 314h1v1h-1zM85 314h1v1h-1zM86 314h1v1h-1zM87 314h1v1h-1zM88 314h1v1h-1zM89 314h1v1h-1zM90 314h1v1h-1zM91 314h1v1h-1zM92 314h1v1h-1zM93 314h1v1h-1zM94 314h1v1h-1zM95 314h1v1h-1zM54 315h1v1h-1zM55 315h1v1h-1zM56 315h1v1h-1zM57 315h1v1h-1zM59 315h1v1h-1zM60 315h1v1h-1zM62 315h1v1h-1zM63 315h1v1h-1zM64 315h1v1h-1zM66 315h1v1h-1zM67 315h1v1h-1zM68 315h1v1h-1zM69 315h1v1h-1zM70 315h1v1h-1zM71 315h1v1h-1zM72 315h1v1h-1zM73 315h1v1h-1zM74 315h1v1h-1zM75 315h1v1h-1zM76 315h1v1h-1zM77 315h1v1h-1zM78 315h1v1h-1zM79 315h1v1h-1zM80 315h1v1h-1zM81 315h1v1h-1zM82 315h1v1h-1zM83 315h1v1h-1zM84 315h1v1h-1zM85 315h1v1h-1zM86 315h1v1h-1zM87 315h1v1h-1zM88 315h1v1h-1zM89 315h1v1h-1zM90 315h1v1h-1zM91 315h1v1h-1zM92 315h1v1h-1zM93 315h1v1h-1zM94 315h1v1h-1zM53 316h1v1h-1zM54 316h1v1h-1zM55 316h1v1h-1zM56 316h1v1h-1zM58 316h1v1h-1zM59 316h1v1h-1zM60 316h1v1h-1zM62 316h1v1h-1zM63 316h1v1h-1zM64 316h1v1h-1zM65 316h1v1h-1zM66 316h1v1h-1zM67 316h1v1h-1zM68 316h1v1h-1zM69 316h1v1h-1zM70 316h1v1h-1zM71 316h1v1h-1zM74 316h1v1h-1zM76 316h1v1h-1zM77 316h1v1h-1zM78 316h1v1h-1zM79 316h1v1h-1zM80 316h1v1h-1zM81 316h1v1h-1zM82 316h1v1h-1zM83 316h1v1h-1zM84 316h1v1h-1zM85 316h1v1h-1zM86 316h1v1h-1zM87 316h1v1h-1zM88 316h1v1h-1zM89 316h1v1h-1zM90 316h1v1h-1zM92 316h1v1h-1zM93 316h1v1h-1zM94 316h1v1h-1zM54 317h1v1h-1zM55 317h1v1h-1zM56 317h1v1h-1zM57 317h1v1h-1zM59 317h1v1h-1zM60 317h1v1h-1zM61 317h1v1h-1zM62 317h1v1h-1zM63 317h1v1h-1zM64 317h1v1h-1zM65 317h1v1h-1zM67 317h1v1h-1zM68 317h1v1h-1zM69 317h1v1h-1zM70 317h1v1h-1zM71 317h1v1h-1zM73 317h1v1h-1zM74 317h1v1h-1zM75 317h1v1h-1zM76 317h1v1h-1zM77 317h1v1h-1zM78 317h1v1h-1zM79 317h1v1h-1zM80 317h1v1h-1zM81 317h1v1h-1zM82 317h1v1h-1zM83 317h1v1h-1zM84 317h1v1h-1zM85 317h1v1h-1zM86 317h1v1h-1zM87 317h1v1h-1zM88 317h1v1h-1zM89 317h1v1h-1zM90 317h1v1h-1zM91 317h1v1h-1zM92 317h1v1h-1zM93 317h1v1h-1zM94 317h1v1h-1zM54 318h1v1h-1zM55 318h1v1h-1zM56 318h1v1h-1zM57 318h1v1h-1zM59 318h1v1h-1zM60 318h1v1h-1zM61 318h1v1h-1zM62 318h1v1h-1zM63 318h1v1h-1zM69 318h1v1h-1zM70 318h1v1h-1zM71 318h1v1h-1zM72 318h1v1h-1zM74 318h1v1h-1zM75 318h1v1h-1zM76 318h1v1h-1zM77 318h1v1h-1zM78 318h1v1h-1zM79 318h1v1h-1zM80 318h1v1h-1zM81 318h1v1h-1zM82 318h1v1h-1zM83 318h1v1h-1zM84 318h1v1h-1zM85 318h1v1h-1zM86 318h1v1h-1zM87 318h1v1h-1zM88 318h1v1h-1zM89 318h1v1h-1zM90 318h1v1h-1zM91 318h1v1h-1zM92 318h1v1h-1zM93 318h1v1h-1zM95 318h1v1h-1zM51 319h1v1h-1zM53 319h1v1h-1zM54 319h1v1h-1zM56 319h1v1h-1zM58 319h1v1h-1zM59 319h1v1h-1zM60 319h1v1h-1zM61 319h1v1h-1zM62 319h1v1h-1zM63 319h1v1h-1zM64 319h1v1h-1zM65 319h1v1h-1zM66 319h1v1h-1zM67 319h1v1h-1zM68 319h1v1h-1zM70 319h1v1h-1zM72 319h1v1h-1zM73 319h1v1h-1zM74 319h1v1h-1zM76 319h1v1h-1zM77 319h1v1h-1zM78 319h1v1h-1zM79 319h1v1h-1zM80 319h1v1h-1zM81 319h1v1h-1zM82 319h1v1h-1zM83 319h1v1h-1zM84 319h1v1h-1zM85 319h1v1h-1zM86 319h1v1h-1zM87 319h1v1h-1zM88 319h1v1h-1zM89 319h1v1h-1zM90 319h1v1h-1zM91 319h1v1h-1zM92 319h1v1h-1zM93 319h1v1h-1zM94 319h1v1h-1zM52 320h1v1h-1zM53 320h1v1h-1zM55 320h1v1h-1zM56 320h1v1h-1zM57 320h1v1h-1zM58 320h1v1h-1zM60 320h1v1h-1zM61 320h1v1h-1zM63 320h1v1h-1zM64 320h1v1h-1zM65 320h1v1h-1zM66 320h1v1h-1zM67 320h1v1h-1zM68 320h1v1h-1zM69 320h1v1h-1zM70 320h1v1h-1zM71 320h1v1h-1zM72 320h1v1h-1zM73 320h1v1h-1zM74 320h1v1h-1zM75 320h1v1h-1zM76 320h1v1h-1zM77 320h1v1h-1zM78 320h1v1h-1zM79 320h1v1h-1zM80 320h1v1h-1zM81 320h1v1h-1zM82 320h1v1h-1zM83 320h1v1h-1zM84 320h1v1h-1zM85 320h1v1h-1zM86 320h1v1h-1zM87 320h1v1h-1zM88 320h1v1h-1zM89 320h1v1h-1zM90 320h1v1h-1zM91 320h1v1h-1zM92 320h1v1h-1zM93 320h1v1h-1zM94 320h1v1h-1zM95 320h1v1h-1z" fill="#000" filter="url(#bl)"/>
<rect x="49.60" y="256.60" width="69.80" height="65.20" fill="none" stroke="#222" stroke-width="1.1" />
<line x1="75.30" y1="256.60" x2="75.30" y2="321.80" stroke="#777" stroke-width="1.0" />
<line x1="49.60" y1="304.80" x2="119.40" y2="304.80" stroke="#777" stroke-width="1.0" />
<text x="89.80" y="269.00" font-size="10.6" text-anchor="start" font-weight="bold" fill="#000" stroke="#000" stroke-width="0.35" >23 %</text>
<text x="52.10" y="328.00" font-size="3.8" text-anchor="middle" font-weight="normal" fill="#000" stroke="#000" stroke-width="0.3" >10</text>
<text transform="translate(45.40 320.80) rotate(-90)" font-size="3.8" text-anchor="middle" stroke="#000" stroke-width="0.3">10</text>
<line x1="52.10" y1="321.80" x2="52.10" y2="323.30" stroke="#000" stroke-width="0.8" />
<line x1="48.10" y1="320.80" x2="49.60" y2="320.80" stroke="#000" stroke-width="0.8" />
<text x="68.80" y="328.00" font-size="3.8" text-anchor="middle" font-weight="normal" fill="#000" stroke="#000" stroke-width="0.3" >10</text>
<text transform="translate(45.40 305.00) rotate(-90)" font-size="3.8" text-anchor="middle" stroke="#000" stroke-width="0.3">10</text>
<line x1="68.80" y1="321.80" x2="68.80" y2="323.30" stroke="#000" stroke-width="0.8" />
<line x1="48.10" y1="305.00" x2="49.60" y2="305.00" stroke="#000" stroke-width="0.8" />
<text x="85.50" y="328.00" font-size="3.8" text-anchor="middle" font-weight="normal" fill="#000" stroke="#000" stroke-width="0.3" >10</text>
<text transform="translate(45.40 289.20) rotate(-90)" font-size="3.8" text-anchor="middle" stroke="#000" stroke-width="0.3">10</text>
<line x1="85.50" y1="321.80" x2="85.50" y2="323.30" stroke="#000" stroke-width="0.8" />
<line x1="48.10" y1="289.20" x2="49.60" y2="289.20" stroke="#000" stroke-width="0.8" />
<text x="102.20" y="328.00" font-size="3.8" text-anchor="middle" font-weight="normal" fill="#000" stroke="#000" stroke-width="0.3" >10</text>
<text transform="translate(45.40 273.40) rotate(-90)" font-size="3.8" text-anchor="middle" stroke="#000" stroke-width="0.3">10</text>
<line x1="102.20" y1="321.80" x2="102.20" y2="323.30" stroke="#000" stroke-width="0.8" />
<line x1="48.10" y1="273.40" x2="49.60" y2="273.40" stroke="#000" stroke-width="0.8" />
<text x="118.90" y="328.00" font-size="3.8" text-anchor="middle" font-weight="normal" fill="#000" stroke="#000" stroke-width="0.3" >10</text>
<text transform="translate(45.40 257.60) rotate(-90)" font-size="3.8" text-anchor="middle" stroke="#000" stroke-width="0.3">10</text>
<line x1="118.90" y1="321.80" x2="118.90" y2="323.30" stroke="#000" stroke-width="0.8" />
<line x1="48.10" y1="257.60" x2="49.60" y2="257.60" stroke="#000" stroke-width="0.8" />
<path d="M85 350h1v1h-1zM85 351h1v1h-1zM51 352h1v1h-1zM84 352h1v1h-1zM70 353h1v1h-1zM84 353h1v1h-1zM88 353h1v1h-1zM90 353h1v1h-1zM73 354h1v1h-1zM83 354h1v1h-1zM87 354h1v1h-1zM89 354h1v1h-1zM69 355h1v1h-1zM79 355h1v1h-1zM83 355h1v1h-1zM84 355h1v1h-1zM89 355h1v1h-1zM52 356h1v1h-1zM54 356h1v1h-1zM63 356h1v1h-1zM64 356h1v1h-1zM82 356h1v1h-1zM83 356h1v1h-1zM85 356h1v1h-1zM86 356h1v1h-1zM89 356h1v1h-1zM91 356h1v1h-1zM93 356h1v1h-1zM52 357h1v1h-1zM58 357h1v1h-1zM61 357h1v1h-1zM79 357h1v1h-1zM83 357h1v1h-1zM84 357h1v1h-1zM85 357h1v1h-1zM86 357h1v1h-1zM87 357h1v1h-1zM88 357h1v1h-1zM90 357h1v1h-1zM71 358h1v1h-1zM80 358h1v1h-1zM82 358h1v1h-1zM83 358h1v1h-1zM85 358h1v1h-1zM86 358h1v1h-1zM87 358h1v1h-1zM89 358h1v1h-1zM90 358h1v1h-1zM92 358h1v1h-1zM53 359h1v1h-1zM69 359h1v1h-1zM74 359h1v1h-1zM80 359h1v1h-1zM81 359h1v1h-1zM82 359h1v1h-1zM83 359h1v1h-1zM87 359h1v1h-1zM88 359h1v1h-1zM89 359h1v1h-1zM90 359h1v1h-1zM91 359h1v1h-1zM93 359h1v1h-1zM62 360h1v1h-1zM67 360h1v1h-1zM70 360h1v1h-1zM74 360h1v1h-1zM80 360h1v1h-1zM81 360h1v1h-1zM82 360h1v1h-1zM83 360h1v1h-1zM85 360h1v1h-1zM88 360h1v1h-1zM89 360h1v1h-1zM90 360h1v1h-1zM91 360h1v1h-1zM92 360h1v1h-1zM93 360h1v1h-1zM52 361h1v1h-1zM72 361h1v1h-1zM79 361h1v1h-1zM81 361h1v1h-1zM82 361h1v1h-1zM83 361h1v1h-1zM84 361h1v1h-1zM85 361h1v1h-1zM86 361h1v1h-1zM87 361h1v1h-1zM88 361h1v1h-1zM89 361h1v1h-1zM90 361h1v1h-1zM91 361h1v1h-1zM92 361h1v1h-1zM94 361h1v1h-1zM52 362h1v1h-1zM55 362h1v1h-1zM60 362h1v1h-1zM66 362h1v1h-1zM68 362h1v1h-1zM72 362h1v1h-1zM73 362h1v1h-1zM79 362h1v1h-1zM81 362h1v1h-1zM82 362h1v1h-1zM83 362h1v1h-1zM84 362h1v1h-1zM85 362h1v1h-1zM86 362h1v1h-1zM88 362h1v1h-1zM89 362h1v1h-1zM90 362h1v1h-1zM92 362h1v1h-1zM93 362h1v1h-1zM51 363h1v1h-1zM57 363h1v1h-1zM59 363h1v1h-1zM63 363h1v1h-1zM64 363h1v1h-1zM67 363h1v1h-1zM73 363h1v1h-1zM77 363h1v1h-1zM80 363h1v1h-1zM81 363h1v1h-1zM83 363h1v1h-1zM84 363h1v1h-1zM85 363h1v1h-1zM87 363h1v1h-1zM88 363h1v1h-1zM89 363h1v1h-1zM90 363h1v1h-1zM91 363h1v1h-1zM92 363h1v1h-1zM94 363h1v1h-1zM55 364h1v1h-1zM58 364h1v1h-1zM62 364h1v1h-1zM65 364h1v1h-1zM69 364h1v1h-1zM70 364h1v1h-1zM74 364h1v1h-1zM77 364h1v1h-1zM79 364h1v1h-1zM80 364h1v1h-1zM81 364h1v1h-1zM82 364h1v1h-1zM83 364h1v1h-1zM84 364h1v1h-1zM85 364h1v1h-1zM86 364h1v1h-1zM87 364h1v1h-1zM88 364h1v1h-1zM89 364h1v1h-1zM90 364h1v1h-1zM92 364h1v1h-1zM94 364h1v1h-1zM95 364h1v1h-1zM54 365h1v1h-1zM55 365h1v1h-1zM62 365h1v1h-1zM64 365h1v1h-1zM68 365h1v1h-1zM76 365h1v1h-1zM79 365h1v1h-1zM81 365h1v1h-1zM82 365h1v1h-1zM83 365h1v1h-1zM84 365h1v1h-1zM86 365h1v1h-1zM87 365h1v1h-1zM88 365h1v1h-1zM89 365h1v1h-1zM91 365h1v1h-1zM92 365h1v1h-1zM51 366h1v1h-1zM52 366h1v1h-1zM58 366h1v1h-1zM62 366h1v1h-1zM64 366h1v1h-1zM69 366h1v1h-1zM70 366h1v1h-1zM74 366h1v1h-1zM76 366h1v1h-1zM78 366h1v1h-1zM79 366h1v1h-1zM80 366h1v1h-1zM81 366h1v1h-1zM82 366h1v1h-1zM83 366h1v1h-1zM84 366h1v1h-1zM85 366h1v1h-1zM86 366h1v1h-1zM87 366h1v1h-1zM88 366h1v1h-1zM89 366h1v1h-1zM90 366h1v1h-1zM91 366h1v1h-1zM92 366h1v1h-1zM93 366h1v1h-1zM58 367h1v1h-1zM60 367h1v1h-1zM64 367h1v1h-1zM79 367h1v1h-1zM80 367h1v1h-1zM81 367h1v1h-1zM82 367h1v1h-1zM83 367h1v1h-1zM84 367h1v1h-1zM85 367h1v1h-1zM86 367h1v1h-1zM87 367h1v1h-1zM88 367h1v1h-1zM89 367h1v1h-1zM90 367h1v1h-1zM91 367h1v1h-1zM54 368h1v1h-1zM59 368h1v1h-1zM60 368h1v1h-1zM72 368h1v1h-1zM73 368h1v1h-1zM79 368h1v1h-1zM80 368h1v1h-1zM81 368h1v1h-1zM84 368h1v1h-1zM85 368h1v1h-1zM86 368h1v1h-1zM87 368h1v1h-1zM88 368h1v1h-1zM89 368h1v1h-1zM90 368h1v1h-1zM91 368h1v1h-1zM92 368h1v1h-1zM61 369h1v1h-1zM64 369h1v1h-1zM66 369h1v1h-1zM78 369h1v1h-1zM81 369h1v1h-1zM82 369h1v1h-1zM83 369h1v1h-1zM84 369h1v1h-1zM85 369h1v1h-1zM86 369h1v1h-1zM87 369h1v1h-1zM88 369h1v1h-1zM89 369h1v1h-1zM90 369h1v1h-1zM91 369h1v1h-1zM92 369h1v1h-1zM93 369h1v1h-1zM51 370h1v1h-1zM52 370h1v1h-1zM53 370h1v1h-1zM55 370h1v1h-1zM63 370h1v1h-1zM65 370h1v1h-1zM66 370h1v1h-1zM70 370h1v1h-1zM80 370h1v1h-1zM82 370h1v1h-1zM83 370h1v1h-1zM84 370h1v1h-1zM85 370h1v1h-1zM86 370h1v1h-1zM87 370h1v1h-1zM88 370h1v1h-1zM89 370h1v1h-1zM90 370h1v1h-1zM91 370h1v1h-1zM92 370h1v1h-1zM93 370h1v1h-1zM51 371h1v1h-1zM54 371h1v1h-1zM56 371h1v1h-1zM58 371h1v1h-1zM60 371h1v1h-1zM62 371h1v1h-1zM64 371h1v1h-1zM68 371h1v1h-1zM71 371h1v1h-1zM77 371h1v1h-1zM78 371h1v1h-1zM79 371h1v1h-1zM80 371h1v1h-1zM81 371h1v1h-1zM82 371h1v1h-1zM83 371h1v1h-1zM84 371h1v1h-1zM85 371h1v1h-1zM86 371h1v1h-1zM88 371h1v1h-1zM89 371h1v1h-1zM90 371h1v1h-1zM91 371h1v1h-1zM92 371h1v1h-1zM93 371h1v1h-1zM94 371h1v1h-1zM53 372h1v1h-1zM59 372h1v1h-1zM62 372h1v1h-1zM68 372h1v1h-1zM71 372h1v1h-1zM79 372h1v1h-1zM80 372h1v1h-1zM81 372h1v1h-1zM82 372h1v1h-1zM83 372h1v1h-1zM84 372h1v1h-1zM85 372h1v1h-1zM87 372h1v1h-1zM88 372h1v1h-1zM89 372h1v1h-1zM90 372h1v1h-1zM91 372h1v1h-1zM92 372h1v1h-1zM93 372h1v1h-1zM53 373h1v1h-1zM54 373h1v1h-1zM60 373h1v1h-1zM61 373h1v1h-1zM65 373h1v1h-1zM67 373h1v1h-1zM69 373h1v1h-1zM79 373h1v1h-1zM80 373h1v1h-1zM81 373h1v1h-1zM82 373h1v1h-1zM83 373h1v1h-1zM86 373h1v1h-1zM87 373h1v1h-1zM88 373h1v1h-1zM89 373h1v1h-1zM90 373h1v1h-1zM91 373h1v1h-1zM92 373h1v1h-1zM93 373h1v1h-1zM53 374h1v1h-1zM54 374h1v1h-1zM64 374h1v1h-1zM66 374h1v1h-1zM71 374h1v1h-1zM72 374h1v1h-1zM78 374h1v1h-1zM80 374h1v1h-1zM81 374h1v1h-1zM82 374h1v1h-1zM83 374h1v1h-1zM84 374h1v1h-1zM87 374h1v1h-1zM89 374h1v1h-1zM90 374h1v1h-1zM91 374h1v1h-1zM92 374h1v1h-1zM93 374h1v1h-1zM53 375h1v1h-1zM57 375h1v1h-1zM59 375h1v1h-1zM60 375h1v1h-1zM61 375h1v1h-1zM66 375h1v1h-1zM67 375h1v1h-1zM80 375h1v1h-1zM81 375h1v1h-1zM82 375h1v1h-1zM83 375h1v1h-1zM84 375h1v1h-1zM85 375h1v1h-1zM86 375h1v1h-1zM87 375h1v1h-1zM88 375h1v1h-1zM89 375h1v1h-1zM90 375h1v1h-1zM91 375h1v1h-1zM92 375h1v1h-1zM52 376h1v1h-1zM59 376h1v1h-1zM61 376h1v1h-1zM66 376h1v1h-1zM68 376h1v1h-1zM71 376h1v1h-1zM73 376h1v1h-1zM76 376h1v1h-1zM79 376h1v1h-1zM81 376h1v1h-1zM82 376h1v1h-1zM83 376h1v1h-1zM84 376h1v1h-1zM85 376h1v1h-1zM86 376h1v1h-1zM87 376h1v1h-1zM88 376h1v1h-1zM89 376h1v1h-1zM90 376h1v1h-1zM91 376h1v1h-1zM92 376h1v1h-1zM93 376h1v1h-1zM52 377h1v1h-1zM54 377h1v1h-1zM55 377h1v1h-1zM56 377h1v1h-1zM62 377h1v1h-1zM66 377h1v1h-1zM71 377h1v1h-1zM82 377h1v1h-1zM83 377h1v1h-1zM84 377h1v1h-1zM85 377h1v1h-1zM86 377h1v1h-1zM87 377h1v1h-1zM89 377h1v1h-1zM92 377h1v1h-1zM95 377h1v1h-1zM54 378h1v1h-1zM55 378h1v1h-1zM57 378h1v1h-1zM60 378h1v1h-1zM64 378h1v1h-1zM65 378h1v1h-1zM70 378h1v1h-1zM71 378h1v1h-1zM80 378h1v1h-1zM82 378h1v1h-1zM83 378h1v1h-1zM84 378h1v1h-1zM85 378h1v1h-1zM86 378h1v1h-1zM87 378h1v1h-1zM88 378h1v1h-1zM89 378h1v1h-1zM90 378h1v1h-1zM91 378h1v1h-1zM93 378h1v1h-1zM94 378h1v1h-1zM53 379h1v1h-1zM54 379h1v1h-1zM59 379h1v1h-1zM60 379h1v1h-1zM61 379h1v1h-1zM63 379h1v1h-1zM64 379h1v1h-1zM66 379h1v1h-1zM70 379h1v1h-1zM77 379h1v1h-1zM81 379h1v1h-1zM82 379h1v1h-1zM83 379h1v1h-1zM84 379h1v1h-1zM85 379h1v1h-1zM86 379h1v1h-1zM88 379h1v1h-1zM89 379h1v1h-1zM90 379h1v1h-1zM91 379h1v1h-1zM93 379h1v1h-1zM51 380h1v1h-1zM55 380h1v1h-1zM56 380h1v1h-1zM57 380h1v1h-1zM61 380h1v1h-1zM62 380h1v1h-1zM63 380h1v1h-1zM65 380h1v1h-1zM68 380h1v1h-1zM69 380h1v1h-1zM71 380h1v1h-1zM76 380h1v1h-1zM79 380h1v1h-1zM80 380h1v1h-1zM82 380h1v1h-1zM83 380h1v1h-1zM84 380h1v1h-1zM87 380h1v1h-1zM88 380h1v1h-1zM89 380h1v1h-1zM90 380h1v1h-1zM91 380h1v1h-1zM94 380h1v1h-1zM53 381h1v1h-1zM55 381h1v1h-1zM58 381h1v1h-1zM62 381h1v1h-1zM63 381h1v1h-1zM69 381h1v1h-1zM70 381h1v1h-1zM71 381h1v1h-1zM73 381h1v1h-1zM78 381h1v1h-1zM79 381h1v1h-1zM80 381h1v1h-1zM81 381h1v1h-1zM82 381h1v1h-1zM84 381h1v1h-1zM85 381h1v1h-1zM86 381h1v1h-1zM87 381h1v1h-1zM88 381h1v1h-1zM89 381h1v1h-1zM90 381h1v1h-1zM91 381h1v1h-1zM92 381h1v1h-1zM53 382h1v1h-1zM54 382h1v1h-1zM55 382h1v1h-1zM56 382h1v1h-1zM58 382h1v1h-1zM59 382h1v1h-1zM62 382h1v1h-1zM64 382h1v1h-1zM65 382h1v1h-1zM67 382h1v1h-1zM70 382h1v1h-1zM73 382h1v1h-1zM75 382h1v1h-1zM80 382h1v1h-1zM81 382h1v1h-1zM82 382h1v1h-1zM83 382h1v1h-1zM84 382h1v1h-1zM85 382h1v1h-1zM86 382h1v1h-1zM87 382h1v1h-1zM88 382h1v1h-1zM89 382h1v1h-1zM90 382h1v1h-1zM91 382h1v1h-1zM92 382h1v1h-1zM93 382h1v1h-1zM53 383h1v1h-1zM54 383h1v1h-1zM56 383h1v1h-1zM57 383h1v1h-1zM59 383h1v1h-1zM60 383h1v1h-1zM61 383h1v1h-1zM62 383h1v1h-1zM63 383h1v1h-1zM64 383h1v1h-1zM65 383h1v1h-1zM66 383h1v1h-1zM67 383h1v1h-1zM68 383h1v1h-1zM69 383h1v1h-1zM70 383h1v1h-1zM71 383h1v1h-1zM73 383h1v1h-1zM75 383h1v1h-1zM79 383h1v1h-1zM80 383h1v1h-1zM81 383h1v1h-1zM83 383h1v1h-1zM84 383h1v1h-1zM85 383h1v1h-1zM86 383h1v1h-1zM87 383h1v1h-1zM88 383h1v1h-1zM89 383h1v1h-1zM90 383h1v1h-1zM91 383h1v1h-1zM92 383h1v1h-1zM93 383h1v1h-1zM52 384h1v1h-1zM58 384h1v1h-1zM60 384h1v1h-1zM63 384h1v1h-1zM64 384h1v1h-1zM66 384h1v1h-1zM67 384h1v1h-1zM69 384h1v1h-1zM70 384h1v1h-1zM72 384h1v1h-1zM73 384h1v1h-1zM75 384h1v1h-1zM79 384h1v1h-1zM80 384h1v1h-1zM81 384h1v1h-1zM84 384h1v1h-1zM85 384h1v1h-1zM86 384h1v1h-1zM87 384h1v1h-1zM88 384h1v1h-1zM89 384h1v1h-1zM90 384h1v1h-1zM92 384h1v1h-1zM93 384h1v1h-1zM95 384h1v1h-1zM52 385h1v1h-1zM53 385h1v1h-1zM57 385h1v1h-1zM62 385h1v1h-1zM63 385h1v1h-1zM64 385h1v1h-1zM66 385h1v1h-1zM67 385h1v1h-1zM68 385h1v1h-1zM69 385h1v1h-1zM72 385h1v1h-1zM73 385h1v1h-1zM80 385h1v1h-1zM82 385h1v1h-1zM83 385h1v1h-1zM84 385h1v1h-1zM85 385h1v1h-1zM86 385h1v1h-1zM87 385h1v1h-1zM88 385h1v1h-1zM89 385h1v1h-1zM90 385h1v1h-1zM91 385h1v1h-1zM92 385h1v1h-1zM53 386h1v1h-1zM54 386h1v1h-1zM55 386h1v1h-1zM56 386h1v1h-1zM60 386h1v1h-1zM63 386h1v1h-1zM65 386h1v1h-1zM66 386h1v1h-1zM68 386h1v1h-1zM69 386h1v1h-1zM72 386h1v1h-1zM73 386h1v1h-1zM74 386h1v1h-1zM79 386h1v1h-1zM80 386h1v1h-1zM81 386h1v1h-1zM83 386h1v1h-1zM84 386h1v1h-1zM85 386h1v1h-1zM86 386h1v1h-1zM87 386h1v1h-1zM88 386h1v1h-1zM89 386h1v1h-1zM90 386h1v1h-1zM91 386h1v1h-1zM92 386h1v1h-1zM93 386h1v1h-1zM94 386h1v1h-1zM53 387h1v1h-1zM54 387h1v1h-1zM55 387h1v1h-1zM58 387h1v1h-1zM59 387h1v1h-1zM61 387h1v1h-1zM65 387h1v1h-1zM68 387h1v1h-1zM75 387h1v1h-1zM79 387h1v1h-1zM80 387h1v1h-1zM81 387h1v1h-1zM82 387h1v1h-1zM83 387h1v1h-1zM84 387h1v1h-1zM85 387h1v1h-1zM86 387h1v1h-1zM87 387h1v1h-1zM88 387h1v1h-1zM89 387h1v1h-1zM90 387h1v1h-1zM92 387h1v1h-1zM93 387h1v1h-1zM94 387h1v1h-1zM53 388h1v1h-1zM56 388h1v1h-1zM58 388h1v1h-1zM61 388h1v1h-1zM62 388h1v1h-1zM63 388h1v1h-1zM64 388h1v1h-1zM65 388h1v1h-1zM66 388h1v1h-1zM67 388h1v1h-1zM69 388h1v1h-1zM70 388h1v1h-1zM71 388h1v1h-1zM72 388h1v1h-1zM73 388h1v1h-1zM74 388h1v1h-1zM78 388h1v1h-1zM79 388h1v1h-1zM81 388h1v1h-1zM82 388h1v1h-1zM83 388h1v1h-1zM84 388h1v1h-1zM85 388h1v1h-1zM86 388h1v1h-1zM87 388h1v1h-1zM88 388h1v1h-1zM89 388h1v1h-1zM90 388h1v1h-1zM92 388h1v1h-1zM93 388h1v1h-1zM53 389h1v1h-1zM54 389h1v1h-1zM55 389h1v1h-1zM58 389h1v1h-1zM59 389h1v1h-1zM60 389h1v1h-1zM62 389h1v1h-1zM63 389h1v1h-1zM64 389h1v1h-1zM65 389h1v1h-1zM66 389h1v1h-1zM67 389h1v1h-1zM68 389h1v1h-1zM69 389h1v1h-1zM70 389h1v1h-1zM71 389h1v1h-1zM72 389h1v1h-1zM74 389h1v1h-1zM76 389h1v1h-1zM80 389h1v1h-1zM81 389h1v1h-1zM82 389h1v1h-1zM83 389h1v1h-1zM84 389h1v1h-1zM85 389h1v1h-1zM86 389h1v1h-1zM87 389h1v1h-1zM88 389h1v1h-1zM89 389h1v1h-1zM90 389h1v1h-1zM91 389h1v1h-1zM92 389h1v1h-1zM93 389h1v1h-1zM94 389h1v1h-1zM51 390h1v1h-1zM54 390h1v1h-1zM56 390h1v1h-1zM57 390h1v1h-1zM58 390h1v1h-1zM59 390h1v1h-1zM60 390h1v1h-1zM61 390h1v1h-1zM62 390h1v1h-1zM65 390h1v1h-1zM66 390h1v1h-1zM67 390h1v1h-1zM68 390h1v1h-1zM69 390h1v1h-1zM70 390h1v1h-1zM71 390h1v1h-1zM73 390h1v1h-1zM74 390h1v1h-1zM79 390h1v1h-1zM80 390h1v1h-1zM81 390h1v1h-1zM82 390h1v1h-1zM83 390h1v1h-1zM84 390h1v1h-1zM85 390h1v1h-1zM86 390h1v1h-1zM87 390h1v1h-1zM88 390h1v1h-1zM89 390h1v1h-1zM90 390h1v1h-1zM91 390h1v1h-1zM92 390h1v1h-1zM94 390h1v1h-1zM52 391h1v1h-1zM53 391h1v1h-1zM54 391h1v1h-1zM55 391h1v1h-1zM56 391h1v1h-1zM57 391h1v1h-1zM59 391h1v1h-1zM60 391h1v1h-1zM61 391h1v1h-1zM63 391h1v1h-1zM65 391h1v1h-1zM66 391h1v1h-1zM67 391h1v1h-1zM69 391h1v1h-1zM70 391h1v1h-1zM72 391h1v1h-1zM74 391h1v1h-1zM75 391h1v1h-1zM78 391h1v1h-1zM79 391h1v1h-1zM80 391h1v1h-1zM81 391h1v1h-1zM83 391h1v1h-1zM84 391h1v1h-1zM85 391h1v1h-1zM86 391h1v1h-1zM87 391h1v1h-1zM88 391h1v1h-1zM89 391h1v1h-1zM90 391h1v1h-1zM91 391h1v1h-1zM94 391h1v1h-1zM53 392h1v1h-1zM55 392h1v1h-1zM56 392h1v1h-1zM58 392h1v1h-1zM60 392h1v1h-1zM61 392h1v1h-1zM62 392h1v1h-1zM63 392h1v1h-1zM64 392h1v1h-1zM66 392h1v1h-1zM67 392h1v1h-1zM68 392h1v1h-1zM69 392h1v1h-1zM70 392h1v1h-1zM71 392h1v1h-1zM73 392h1v1h-1zM79 392h1v1h-1zM80 392h1v1h-1zM81 392h1v1h-1zM82 392h1v1h-1zM83 392h1v1h-1zM84 392h1v1h-1zM85 392h1v1h-1zM86 392h1v1h-1zM88 392h1v1h-1zM89 392h1v1h-1zM90 392h1v1h-1zM91 392h1v1h-1zM92 392h1v1h-1zM93 392h1v1h-1zM50 393h1v1h-1zM51 393h1v1h-1zM52 393h1v1h-1zM53 393h1v1h-1zM54 393h1v1h-1zM55 393h1v1h-1zM56 393h1v1h-1zM57 393h1v1h-1zM58 393h1v1h-1zM59 393h1v1h-1zM60 393h1v1h-1zM62 393h1v1h-1zM63 393h1v1h-1zM64 393h1v1h-1zM65 393h1v1h-1zM67 393h1v1h-1zM68 393h1v1h-1zM69 393h1v1h-1zM70 393h1v1h-1zM71 393h1v1h-1zM72 393h1v1h-1zM73 393h1v1h-1zM75 393h1v1h-1zM78 393h1v1h-1zM79 393h1v1h-1zM80 393h1v1h-1zM82 393h1v1h-1zM83 393h1v1h-1zM84 393h1v1h-1zM85 393h1v1h-1zM86 393h1v1h-1zM87 393h1v1h-1zM88 393h1v1h-1zM89 393h1v1h-1zM90 393h1v1h-1zM91 393h1v1h-1zM92 393h1v1h-1zM93 393h1v1h-1zM52 394h1v1h-1zM54 394h1v1h-1zM55 394h1v1h-1zM57 394h1v1h-1zM58 394h1v1h-1zM59 394h1v1h-1zM61 394h1v1h-1zM63 394h1v1h-1zM64 394h1v1h-1zM65 394h1v1h-1zM66 394h1v1h-1zM67 394h1v1h-1zM68 394h1v1h-1zM69 394h1v1h-1zM71 394h1v1h-1zM72 394h1v1h-1zM73 394h1v1h-1zM74 394h1v1h-1zM79 394h1v1h-1zM80 394h1v1h-1zM81 394h1v1h-1zM82 394h1v1h-1zM83 394h1v1h-1zM84 394h1v1h-1zM85 394h1v1h-1zM86 394h1v1h-1zM87 394h1v1h-1zM89 394h1v1h-1zM90 394h1v1h-1zM91 394h1v1h-1zM92 394h1v1h-1zM93 394h1v1h-1zM94 394h1v1h-1zM95 394h1v1h-1zM52 395h1v1h-1zM53 395h1v1h-1zM54 395h1v1h-1zM56 395h1v1h-1zM57 395h1v1h-1zM58 395h1v1h-1zM59 395h1v1h-1zM61 395h1v1h-1zM63 395h1v1h-1zM64 395h1v1h-1zM65 395h1v1h-1zM66 395h1v1h-1zM68 395h1v1h-1zM70 395h1v1h-1zM71 395h1v1h-1zM72 395h1v1h-1zM73 395h1v1h-1zM74 395h1v1h-1zM75 395h1v1h-1zM77 395h1v1h-1zM79 395h1v1h-1zM80 395h1v1h-1zM81 395h1v1h-1zM83 395h1v1h-1zM84 395h1v1h-1zM85 395h1v1h-1zM86 395h1v1h-1zM87 395h1v1h-1zM88 395h1v1h-1zM89 395h1v1h-1zM90 395h1v1h-1zM91 395h1v1h-1zM92 395h1v1h-1zM94 395h1v1h-1zM51 396h1v1h-1zM52 396h1v1h-1zM53 396h1v1h-1zM55 396h1v1h-1zM56 396h1v1h-1zM57 396h1v1h-1zM58 396h1v1h-1zM59 396h1v1h-1zM60 396h1v1h-1zM61 396h1v1h-1zM62 396h1v1h-1zM63 396h1v1h-1zM64 396h1v1h-1zM65 396h1v1h-1zM66 396h1v1h-1zM68 396h1v1h-1zM69 396h1v1h-1zM70 396h1v1h-1zM71 396h1v1h-1zM79 396h1v1h-1zM80 396h1v1h-1zM81 396h1v1h-1zM82 396h1v1h-1zM83 396h1v1h-1zM84 396h1v1h-1zM85 396h1v1h-1zM86 396h1v1h-1zM87 396h1v1h-1zM88 396h1v1h-1zM90 396h1v1h-1zM92 396h1v1h-1zM93 396h1v1h-1zM94 396h1v1h-1zM53 397h1v1h-1zM55 397h1v1h-1zM56 397h1v1h-1zM59 397h1v1h-1zM60 397h1v1h-1zM66 397h1v1h-1zM67 397h1v1h-1zM70 397h1v1h-1zM72 397h1v1h-1zM76 397h1v1h-1zM79 397h1v1h-1zM80 397h1v1h-1zM81 397h1v1h-1zM83 397h1v1h-1zM84 397h1v1h-1zM85 397h1v1h-1zM86 397h1v1h-1zM87 397h1v1h-1zM88 397h1v1h-1zM89 397h1v1h-1zM90 397h1v1h-1zM91 397h1v1h-1zM92 397h1v1h-1zM93 397h1v1h-1zM94 397h1v1h-1zM53 398h1v1h-1zM54 398h1v1h-1zM56 398h1v1h-1zM59 398h1v1h-1zM60 398h1v1h-1zM62 398h1v1h-1zM65 398h1v1h-1zM66 398h1v1h-1zM67 398h1v1h-1zM68 398h1v1h-1zM69 398h1v1h-1zM70 398h1v1h-1zM71 398h1v1h-1zM72 398h1v1h-1zM73 398h1v1h-1zM77 398h1v1h-1zM79 398h1v1h-1zM80 398h1v1h-1zM81 398h1v1h-1zM82 398h1v1h-1zM83 398h1v1h-1zM84 398h1v1h-1zM85 398h1v1h-1zM86 398h1v1h-1zM87 398h1v1h-1zM88 398h1v1h-1zM89 398h1v1h-1zM90 398h1v1h-1zM91 398h1v1h-1zM92 398h1v1h-1zM93 398h1v1h-1zM95 398h1v1h-1zM53 399h1v1h-1zM54 399h1v1h-1zM55 399h1v1h-1zM56 399h1v1h-1zM58 399h1v1h-1zM59 399h1v1h-1zM60 399h1v1h-1zM61 399h1v1h-1zM62 399h1v1h-1zM64 399h1v1h-1zM65 399h1v1h-1zM66 399h1v1h-1zM67 399h1v1h-1zM68 399h1v1h-1zM70 399h1v1h-1zM72 399h1v1h-1zM73 399h1v1h-1zM75 399h1v1h-1zM79 399h1v1h-1zM80 399h1v1h-1zM81 399h1v1h-1zM82 399h1v1h-1zM83 399h1v1h-1zM84 399h1v1h-1zM85 399h1v1h-1zM86 399h1v1h-1zM87 399h1v1h-1zM88 399h1v1h-1zM89 399h1v1h-1zM90 399h1v1h-1zM91 399h1v1h-1zM92 399h1v1h-1zM93 399h1v1h-1zM94 399h1v1h-1zM52 400h1v1h-1zM53 400h1v1h-1zM54 400h1v1h-1zM55 400h1v1h-1zM56 400h1v1h-1zM57 400h1v1h-1zM58 400h1v1h-1zM59 400h1v1h-1zM60 400h1v1h-1zM62 400h1v1h-1zM63 400h1v1h-1zM64 400h1v1h-1zM65 400h1v1h-1zM66 400h1v1h-1zM67 400h1v1h-1zM68 400h1v1h-1zM69 400h1v1h-1zM70 400h1v1h-1zM71 400h1v1h-1zM72 400h1v1h-1zM73 400h1v1h-1zM74 400h1v1h-1zM75 400h1v1h-1zM77 400h1v1h-1zM79 400h1v1h-1zM80 400h1v1h-1zM81 400h1v1h-1zM82 400h1v1h-1zM83 400h1v1h-1zM84 400h1v1h-1zM85 400h1v1h-1zM86 400h1v1h-1zM87 400h1v1h-1zM88 400h1v1h-1zM89 400h1v1h-1zM90 400h1v1h-1zM91 400h1v1h-1zM92 400h1v1h-1zM93 400h1v1h-1zM94 400h1v1h-1z" fill="#000" filter="url(#bl)"/>
<rect x="49.60" y="337.80" width="69.20" height="64.00" fill="none" stroke="#222" stroke-width="1.1" />
<line x1="75.30" y1="337.80" x2="75.30" y2="401.80" stroke="#777" stroke-width="1.0" />
<line x1="49.60" y1="382.00" x2="118.80" y2="382.00" stroke="#777" stroke-width="1.0" />
<text x="89.80" y="350.20" font-size="10.6" text-anchor="start" font-weight="bold" fill="#000" stroke="#000" stroke-width="0.35" >52 %</text>
<text x="52.10" y="408.00" font-size="3.8" text-anchor="middle" font-weight="normal" fill="#000" stroke="#000" stroke-width="0.3" >10</text>
<text transform="translate(45.40 400.80) rotate(-90)" font-size="3.8" text-anchor="middle" stroke="#000" stroke-width="0.3">10</text>
<line x1="52.10" y1="401.80" x2="52.10" y2="403.30" stroke="#000" stroke-width="0.8" />
<line x1="48.10" y1="400.80" x2="49.60" y2="400.80" stroke="#000" stroke-width="0.8" />
<text x="68.65" y="408.00" font-size="3.8" text-anchor="middle" font-weight="normal" fill="#000" stroke="#000" stroke-width="0.3" >10</text>
<text transform="translate(45.40 385.30) rotate(-90)" font-size="3.8" text-anchor="middle" stroke="#000" stroke-width="0.3">10</text>
<line x1="68.65" y1="401.80" x2="68.65" y2="403.30" stroke="#000" stroke-width="0.8" />
<line x1="48.10" y1="385.30" x2="49.60" y2="385.30" stroke="#000" stroke-width="0.8" />
<text x="85.20" y="408.00" font-size="3.8" text-anchor="middle" font-weight="normal" fill="#000" stroke="#000" stroke-width="0.3" >10</text>
<text transform="translate(45.40 369.80) rotate(-90)" font-size="3.8" text-anchor="middle" stroke="#000" stroke-width="0.3">10</text>
<line x1="85.20" y1="401.80" x2="85.20" y2="403.30" stroke="#000" stroke-width="0.8" />
<line x1="48.10" y1="369.80" x2="49.60" y2="369.80" stroke="#000" stroke-width="0.8" />
<text x="101.75" y="408.00" font-size="3.8" text-anchor="middle" font-weight="normal" fill="#000" stroke="#000" stroke-width="0.3" >10</text>
<text transform="translate(45.40 354.30) rotate(-90)" font-size="3.8" text-anchor="middle" stroke="#000" stroke-width="0.3">10</text>
<line x1="101.75" y1="401.80" x2="101.75" y2="403.30" stroke="#000" stroke-width="0.8" />
<line x1="48.10" y1="354.30" x2="49.60" y2="354.30" stroke="#000" stroke-width="0.8" />
<text x="118.30" y="408.00" font-size="3.8" text-anchor="middle" font-weight="normal" fill="#000" stroke="#000" stroke-width="0.3" >10</text>
<text transform="translate(45.40 338.80) rotate(-90)" font-size="3.8" text-anchor="middle" stroke="#000" stroke-width="0.3">10</text>
<line x1="118.30" y1="401.80" x2="118.30" y2="403.30" stroke="#000" stroke-width="0.8" />
<line x1="48.10" y1="338.80" x2="49.60" y2="338.80" stroke="#000" stroke-width="0.8" />
<text transform="translate(33.40 336.40) rotate(-90)" font-size="11.6" font-weight="bold" text-anchor="middle" stroke="#000" stroke-width="0.35" >log  TNF<tspan font-weight="normal" font-family="Liberation Serif" stroke-width="0.35">&#945;</tspan></text>
<text x="79.90" y="420.60" font-size="10.6" text-anchor="middle" font-weight="bold" fill="#000" stroke="#000" stroke-width="0.35" >log CD3</text>
<rect x="162.60" y="255.50" width="159.00" height="158.50" fill="none" stroke="#666" stroke-width="1.1" />
<line x1="161.40" y1="414.00" x2="164.40" y2="414.00" stroke="#000" stroke-width="1.3" />
<line x1="161.40" y1="394.19" x2="164.40" y2="394.19" stroke="#000" stroke-width="1.3" />
<line x1="161.40" y1="374.38" x2="164.40" y2="374.38" stroke="#000" stroke-width="1.3" />
<line x1="161.40" y1="354.56" x2="164.40" y2="354.56" stroke="#000" stroke-width="1.3" />
<line x1="161.40" y1="334.75" x2="164.40" y2="334.75" stroke="#000" stroke-width="1.3" />
<line x1="161.40" y1="314.94" x2="164.40" y2="314.94" stroke="#000" stroke-width="1.3" />
<line x1="161.40" y1="295.12" x2="164.40" y2="295.12" stroke="#000" stroke-width="1.3" />
<line x1="161.40" y1="275.31" x2="164.40" y2="275.31" stroke="#000" stroke-width="1.3" />
<line x1="161.40" y1="255.50" x2="164.40" y2="255.50" stroke="#000" stroke-width="1.3" />
<text x="154.20" y="263.30" font-size="9.0" text-anchor="middle" font-weight="normal" fill="#000" stroke="#000" stroke-width="0.45" letter-spacing="0.3">80</text>
<text x="153.70" y="299.00" font-size="9.0" text-anchor="middle" font-weight="normal" fill="#000" stroke="#000" stroke-width="0.45" letter-spacing="0.3">60</text>
<text x="153.70" y="339.00" font-size="9.0" text-anchor="middle" font-weight="normal" fill="#000" stroke="#000" stroke-width="0.45" letter-spacing="0.3">40</text>
<text x="153.70" y="378.00" font-size="9.0" text-anchor="middle" font-weight="normal" fill="#000" stroke="#000" stroke-width="0.45" letter-spacing="0.3">20</text>
<text x="155.10" y="416.40" font-size="9.0" text-anchor="middle" font-weight="normal" fill="#000" stroke="#000" stroke-width="0.45" letter-spacing="0.3">0</text>
<circle cx="201.20" cy="241.40" r="2.5" fill="#fff" stroke="#000" stroke-width="1.4"/>
<text x="209.30" y="245.30" font-size="10.4" text-anchor="start" font-weight="bold" fill="#000" stroke="#000" stroke-width="0.35" >CD4</text>
<circle cx="254.00" cy="240.90" r="2.9" fill="#000" stroke="#000" stroke-width="0.5"/>
<text x="261.40" y="245.30" font-size="10.4" text-anchor="start" font-weight="bold" fill="#000" stroke="#000" stroke-width="0.35" >CD8</text>
<line x1="187.50" y1="414.00" x2="187.50" y2="411.40" stroke="#000" stroke-width="1.3" />
<line x1="203.50" y1="414.00" x2="203.50" y2="411.40" stroke="#000" stroke-width="1.3" />
<line x1="222.80" y1="414.00" x2="222.80" y2="411.40" stroke="#000" stroke-width="1.3" />
<line x1="243.30" y1="414.00" x2="243.30" y2="411.40" stroke="#000" stroke-width="1.3" />
<line x1="261.60" y1="414.00" x2="261.60" y2="411.40" stroke="#000" stroke-width="1.3" />
<line x1="282.20" y1="414.00" x2="282.20" y2="411.40" stroke="#000" stroke-width="1.3" />
<line x1="298.60" y1="414.00" x2="298.60" y2="411.40" stroke="#000" stroke-width="1.3" />
<line x1="314.20" y1="414.00" x2="314.20" y2="411.40" stroke="#000" stroke-width="1.3" />
<text x="187.30" y="424.50" font-size="8.4" text-anchor="middle" font-weight="bold" fill="#000" stroke="#000" stroke-width="0.35" xml:space="preserve">0</text>
<text x="202.30" y="424.50" font-size="8.4" text-anchor="middle" font-weight="bold" fill="#000" stroke="#000" stroke-width="0.35" xml:space="preserve">1</text>
<text x="221.50" y="424.50" font-size="8.4" text-anchor="middle" font-weight="bold" fill="#000" stroke="#000" stroke-width="0.35" xml:space="preserve">2</text>
<text x="242.70" y="423.50" font-size="8.4" text-anchor="middle" font-weight="bold" fill="#000" stroke="#000" stroke-width="0.35" xml:space="preserve">6</text>
<text x="262.40" y="423.50" font-size="8.4" text-anchor="middle" font-weight="bold" fill="#000" stroke="#000" stroke-width="0.35" xml:space="preserve">9</text>
<text x="281.60" y="423.50" font-size="8.4" text-anchor="middle" font-weight="bold" fill="#000" stroke="#000" stroke-width="0.35" xml:space="preserve">1 2</text>
<text x="297.80" y="423.50" font-size="8.4" text-anchor="middle" font-weight="bold" fill="#000" stroke="#000" stroke-width="0.35" xml:space="preserve">1 5</text>
<text x="313.40" y="423.50" font-size="8.4" text-anchor="middle" font-weight="bold" fill="#000" stroke="#000" stroke-width="0.35" xml:space="preserve">1 8</text>
<text transform="translate(171.60 431.80) rotate(-90)" font-size="10.1" font-weight="bold" text-anchor="middle" stroke="#000" stroke-width="0.35" >HIV-</text>
<line x1="187.30" y1="426.60" x2="187.30" y2="433.80" stroke="#000" stroke-width="1.4" />
<text x="191.00" y="442.30" font-size="8.3" text-anchor="middle" font-weight="normal" fill="#000" stroke="#000" stroke-width="0.35" >(n = 15)</text>
<line x1="261.90" y1="426.30" x2="261.90" y2="431.20" stroke="#000" stroke-width="1.4" />
<text x="262.90" y="442.30" font-size="8.3" text-anchor="middle" font-weight="normal" fill="#000" stroke="#000" stroke-width="0.35" >(n = 14)</text>
<line x1="296.90" y1="426.30" x2="296.90" y2="431.20" stroke="#000" stroke-width="1.4" />
<text x="295.30" y="442.30" font-size="8.3" text-anchor="middle" font-weight="normal" fill="#000" stroke="#000" stroke-width="0.35" >(n = 11)</text>
<line x1="313.80" y1="426.30" x2="313.80" y2="431.20" stroke="#000" stroke-width="1.4" />
<text x="323.00" y="442.30" font-size="8.3" text-anchor="middle" font-weight="normal" fill="#000" stroke="#000" stroke-width="0.35" >(n = 8)</text>
<text x="239.10" y="459.70" font-size="10.3" text-anchor="middle" font-weight="bold" fill="#000" stroke="#000" stroke-width="0.35" >HAART (months)</text>
<text transform="translate(141.70 340.20) rotate(-90)" font-size="11.6" font-weight="bold" text-anchor="middle" stroke="#000" stroke-width="0.35" >TNF<tspan font-weight="normal" font-family="Liberation Serif" stroke-width="0.35">&#945;</tspan><tspan font-size="7.6" dy="-4">+</tspan><tspan dy="4"> T cells (% )</tspan></text>
<line x1="170.20" y1="330.30" x2="170.20" y2="320.60" stroke="#888" stroke-width="1.15" />
<line x1="167.60" y1="320.60" x2="172.80" y2="320.60" stroke="#888" stroke-width="1.15" />
<line x1="170.20" y1="330.30" x2="170.20" y2="341.30" stroke="#888" stroke-width="1.15" />
<line x1="167.60" y1="341.30" x2="172.80" y2="341.30" stroke="#888" stroke-width="1.15" />
<line x1="188.30" y1="353.00" x2="188.30" y2="344.60" stroke="#888" stroke-width="1.15" />
<line x1="185.70" y1="344.60" x2="190.90" y2="344.60" stroke="#888" stroke-width="1.15" />
<line x1="204.30" y1="378.30" x2="204.30" y2="373.90" stroke="#888" stroke-width="1.15" />
<line x1="201.70" y1="373.90" x2="206.90" y2="373.90" stroke="#888" stroke-width="1.15" />
<line x1="204.30" y1="378.30" x2="204.30" y2="385.60" stroke="#888" stroke-width="1.15" />
<line x1="201.70" y1="385.60" x2="206.90" y2="385.60" stroke="#888" stroke-width="1.15" />
<line x1="219.90" y1="332.20" x2="219.90" y2="308.50" stroke="#888" stroke-width="1.15" />
<line x1="217.30" y1="308.50" x2="222.50" y2="308.50" stroke="#888" stroke-width="1.15" />
<line x1="241.70" y1="317.80" x2="241.70" y2="302.60" stroke="#888" stroke-width="1.15" />
<line x1="239.10" y1="302.60" x2="244.30" y2="302.60" stroke="#888" stroke-width="1.15" />
<line x1="261.20" y1="324.70" x2="261.20" y2="311.40" stroke="#888" stroke-width="1.15" />
<line x1="258.60" y1="311.40" x2="263.80" y2="311.40" stroke="#888" stroke-width="1.15" />
<line x1="280.70" y1="311.00" x2="280.70" y2="293.30" stroke="#888" stroke-width="1.15" />
<line x1="278.10" y1="293.30" x2="283.30" y2="293.30" stroke="#888" stroke-width="1.15" />
<line x1="280.70" y1="311.00" x2="280.70" y2="328.40" stroke="#888" stroke-width="1.15" />
<line x1="278.10" y1="328.40" x2="283.30" y2="328.40" stroke="#888" stroke-width="1.15" />
<line x1="299.20" y1="286.10" x2="299.20" y2="266.60" stroke="#888" stroke-width="1.15" />
<line x1="296.60" y1="266.60" x2="301.80" y2="266.60" stroke="#888" stroke-width="1.15" />
<line x1="299.20" y1="286.10" x2="299.20" y2="306.10" stroke="#888" stroke-width="1.15" />
<line x1="296.60" y1="306.10" x2="301.80" y2="306.10" stroke="#888" stroke-width="1.15" />
<line x1="315.20" y1="291.50" x2="315.20" y2="272.40" stroke="#888" stroke-width="1.15" />
<line x1="312.60" y1="272.40" x2="317.80" y2="272.40" stroke="#888" stroke-width="1.15" />
<line x1="315.20" y1="291.50" x2="315.20" y2="311.40" stroke="#888" stroke-width="1.15" />
<line x1="312.60" y1="311.40" x2="317.80" y2="311.40" stroke="#888" stroke-width="1.15" />
<line x1="170.60" y1="363.70" x2="170.60" y2="351.40" stroke="#888" stroke-width="1.15" />
<line x1="168.00" y1="351.40" x2="173.20" y2="351.40" stroke="#888" stroke-width="1.15" />
<line x1="170.60" y1="363.70" x2="170.60" y2="376.20" stroke="#888" stroke-width="1.15" />
<line x1="168.00" y1="376.20" x2="173.20" y2="376.20" stroke="#888" stroke-width="1.15" />
<line x1="187.40" y1="372.50" x2="187.40" y2="365.70" stroke="#888" stroke-width="1.15" />
<line x1="184.80" y1="365.70" x2="190.00" y2="365.70" stroke="#888" stroke-width="1.15" />
<line x1="187.40" y1="372.50" x2="187.40" y2="382.60" stroke="#888" stroke-width="1.15" />
<line x1="184.80" y1="382.60" x2="190.00" y2="382.60" stroke="#888" stroke-width="1.15" />
<line x1="203.70" y1="396.90" x2="203.70" y2="390.00" stroke="#888" stroke-width="1.15" />
<line x1="201.10" y1="390.00" x2="206.30" y2="390.00" stroke="#888" stroke-width="1.15" />
<line x1="203.70" y1="396.90" x2="203.70" y2="402.10" stroke="#888" stroke-width="1.15" />
<line x1="201.10" y1="402.10" x2="206.30" y2="402.10" stroke="#888" stroke-width="1.15" />
<line x1="220.30" y1="338.20" x2="220.30" y2="353.40" stroke="#888" stroke-width="1.15" />
<line x1="217.70" y1="353.40" x2="222.90" y2="353.40" stroke="#888" stroke-width="1.15" />
<line x1="241.40" y1="335.70" x2="241.40" y2="350.90" stroke="#888" stroke-width="1.15" />
<line x1="238.80" y1="350.90" x2="244.00" y2="350.90" stroke="#888" stroke-width="1.15" />
<line x1="261.80" y1="341.00" x2="261.80" y2="351.70" stroke="#888" stroke-width="1.15" />
<line x1="259.20" y1="351.70" x2="264.40" y2="351.70" stroke="#888" stroke-width="1.15" />
<line x1="280.80" y1="341.80" x2="280.80" y2="332.90" stroke="#888" stroke-width="1.15" />
<line x1="278.20" y1="332.90" x2="283.40" y2="332.90" stroke="#888" stroke-width="1.15" />
<line x1="280.80" y1="341.80" x2="280.80" y2="348.80" stroke="#888" stroke-width="1.15" />
<line x1="278.20" y1="348.80" x2="283.40" y2="348.80" stroke="#888" stroke-width="1.15" />
<line x1="296.50" y1="328.00" x2="296.50" y2="320.20" stroke="#888" stroke-width="1.15" />
<line x1="293.90" y1="320.20" x2="299.10" y2="320.20" stroke="#888" stroke-width="1.15" />
<line x1="296.50" y1="328.00" x2="296.50" y2="336.50" stroke="#888" stroke-width="1.15" />
<line x1="293.90" y1="336.50" x2="299.10" y2="336.50" stroke="#888" stroke-width="1.15" />
<line x1="314.70" y1="329.30" x2="314.70" y2="345.50" stroke="#888" stroke-width="1.15" />
<line x1="312.10" y1="345.50" x2="317.30" y2="345.50" stroke="#888" stroke-width="1.15" />
<polyline points="188.30,353.00 204.30,378.30 219.90,332.20 241.70,317.80 261.20,324.70 280.70,311.00 299.20,286.10 315.20,291.50" fill="none" stroke="#000" stroke-width="1.0" stroke-linejoin="round" stroke-dasharray="1.4 0.5"/>
<polyline points="187.40,372.50 203.70,396.90 220.30,338.20 241.40,335.70 261.80,341.00 280.80,341.80 296.50,328.00 314.70,329.30" fill="none" stroke="#000" stroke-width="2.0" stroke-linejoin="round" />
<circle cx="170.20" cy="330.30" r="1.9" fill="#fff" stroke="#000" stroke-width="1.2"/>
<circle cx="188.30" cy="353.00" r="2.75" fill="#fff" stroke="#000" stroke-width="1.4"/>
<circle cx="204.30" cy="378.30" r="2.75" fill="#fff" stroke="#000" stroke-width="1.4"/>
<circle cx="219.90" cy="332.20" r="2.75" fill="#fff" stroke="#000" stroke-width="1.4"/>
<circle cx="241.70" cy="317.80" r="2.75" fill="#fff" stroke="#000" stroke-width="1.4"/>
<circle cx="261.20" cy="324.70" r="2.75" fill="#fff" stroke="#000" stroke-width="1.4"/>
<circle cx="280.70" cy="311.00" r="2.75" fill="#fff" stroke="#000" stroke-width="1.4"/>
<circle cx="299.20" cy="286.10" r="2.75" fill="#fff" stroke="#000" stroke-width="1.4"/>
<circle cx="315.20" cy="291.50" r="2.75" fill="#fff" stroke="#000" stroke-width="1.4"/>
<circle cx="170.60" cy="363.70" r="2.8" fill="#000" stroke="#000" stroke-width="0.4"/>
<circle cx="187.40" cy="372.50" r="2.5" fill="#000" stroke="#000" stroke-width="0.4"/>
<circle cx="203.70" cy="396.90" r="2.9" fill="#000" stroke="#000" stroke-width="0.4"/>
<circle cx="220.30" cy="338.20" r="3.0" fill="#000" stroke="#000" stroke-width="0.4"/>
<circle cx="241.40" cy="335.70" r="3.0" fill="#000" stroke="#000" stroke-width="0.4"/>
<circle cx="261.80" cy="341.00" r="3.0" fill="#000" stroke="#000" stroke-width="0.4"/>
<circle cx="280.80" cy="341.80" r="3.0" fill="#000" stroke="#000" stroke-width="0.4"/>
<circle cx="296.50" cy="328.00" r="3.0" fill="#000" stroke="#000" stroke-width="0.4"/>
<circle cx="314.70" cy="329.30" r="3.0" fill="#000" stroke="#000" stroke-width="0.4"/>
<path d="M278.90 285.80L278.90 283.05M278.90 285.80L281.52 284.95M278.90 285.80L280.52 288.02M278.90 285.80L277.28 288.02M278.90 285.80L276.28 284.95" stroke="#000" stroke-width="1.45" stroke-linecap="round" fill="none"/>
<path d="M294.30 259.90L294.30 257.15M294.30 259.90L296.92 259.05M294.30 259.90L295.92 262.12M294.30 259.90L292.68 262.12M294.30 259.90L291.68 259.05" stroke="#000" stroke-width="1.45" stroke-linecap="round" fill="none"/>
<path d="M315.00 264.30L315.00 261.55M315.00 264.30L317.62 263.45M315.00 264.30L316.62 266.52M315.00 264.30L313.38 266.52M315.00 264.30L312.38 263.45" stroke="#000" stroke-width="1.45" stroke-linecap="round" fill="none"/>
<path d="M241.10 357.80L241.10 355.05M241.10 357.80L243.72 356.95M241.10 357.80L242.72 360.02M241.10 357.80L239.48 360.02M241.10 357.80L238.48 356.95" stroke="#000" stroke-width="1.45" stroke-linecap="round" fill="none"/>
<path d="M261.60 357.80L261.60 355.05M261.60 357.80L264.22 356.95M261.60 357.80L263.22 360.02M261.60 357.80L259.98 360.02M261.60 357.80L258.98 356.95" stroke="#000" stroke-width="1.45" stroke-linecap="round" fill="none"/>
<path d="M280.20 355.00L280.20 352.25M280.20 355.00L282.82 354.15M280.20 355.00L281.82 357.22M280.20 355.00L278.58 357.22M280.20 355.00L277.58 354.15" stroke="#000" stroke-width="1.45" stroke-linecap="round" fill="none"/>
<path d="M295.70 341.80L295.70 339.05M295.70 341.80L298.32 340.95M295.70 341.80L297.32 344.02M295.70 341.80L294.08 344.02M295.70 341.80L293.08 340.95" stroke="#000" stroke-width="1.45" stroke-linecap="round" fill="none"/>
<path d="M314.70 351.00L314.70 348.25M314.70 351.00L317.32 350.15M314.70 351.00L316.32 353.22M314.70 351.00L313.08 353.22M314.70 351.00L312.08 350.15" stroke="#000" stroke-width="1.45" stroke-linecap="round" fill="none"/>
<path d="M299.39 258.81L302.45 258.81L302.45 259.55L299.39 259.55ZM300.22 258.81L302.21 258.81L302.21 266.60L300.22 266.60ZM299.64 265.93L302.54 265.93L302.54 266.60L299.64 266.60Z" fill="#000"/>
<path d="M300.47 259.22C299.06 259.22 298.56 260.05 298.56 261.13C298.56 262.20 299.14 262.95 300.47 262.95" fill="none" stroke="#000" stroke-width="0.95"/>
<path d="M278.89 360.41L281.95 360.41L281.95 361.15L278.89 361.15ZM279.72 360.41L281.71 360.41L281.71 368.20L279.72 368.20ZM279.14 367.53L282.04 367.53L282.04 368.20L279.14 368.20Z" fill="#000"/>
<path d="M279.97 360.82C278.56 360.82 278.06 361.65 278.06 362.73C278.06 363.80 278.64 364.55 279.97 364.55" fill="none" stroke="#000" stroke-width="0.95"/>
<path d="M294.59 345.71L297.65 345.71L297.65 346.45L294.59 346.45ZM295.42 345.71L297.41 345.71L297.41 353.50L295.42 353.50ZM294.84 352.83L297.74 352.83L297.74 353.50L294.84 353.50Z" fill="#000"/>
<path d="M295.67 346.12C294.26 346.12 293.76 346.95 293.76 348.03C293.76 349.10 294.34 349.85 295.67 349.85" fill="none" stroke="#000" stroke-width="0.95"/>
<rect x="384.40" y="257.30" width="134.90" height="158.90" fill="none" stroke="#555" stroke-width="1.2" />
<line x1="384.40" y1="416.20" x2="386.40" y2="416.20" stroke="#000" stroke-width="1.1" />
<line x1="384.40" y1="396.34" x2="386.40" y2="396.34" stroke="#000" stroke-width="1.1" />
<line x1="384.40" y1="376.48" x2="386.40" y2="376.48" stroke="#000" stroke-width="1.1" />
<line x1="384.40" y1="356.61" x2="386.40" y2="356.61" stroke="#000" stroke-width="1.1" />
<line x1="384.40" y1="336.75" x2="386.40" y2="336.75" stroke="#000" stroke-width="1.1" />
<line x1="384.40" y1="316.89" x2="386.40" y2="316.89" stroke="#000" stroke-width="1.1" />
<line x1="384.40" y1="297.02" x2="386.40" y2="297.02" stroke="#000" stroke-width="1.1" />
<line x1="384.40" y1="277.16" x2="386.40" y2="277.16" stroke="#000" stroke-width="1.1" />
<line x1="384.40" y1="257.30" x2="386.40" y2="257.30" stroke="#000" stroke-width="1.1" />
<text x="372.30" y="260.40" font-size="9.0" text-anchor="middle" font-weight="normal" fill="#000" stroke="#000" stroke-width="0.45" letter-spacing="0.3">800</text>
<text x="372.30" y="299.60" font-size="9.0" text-anchor="middle" font-weight="normal" fill="#000" stroke="#000" stroke-width="0.45" letter-spacing="0.3">600</text>
<text x="372.30" y="339.00" font-size="9.0" text-anchor="middle" font-weight="normal" fill="#000" stroke="#000" stroke-width="0.45" letter-spacing="0.3">400</text>
<text x="372.30" y="379.00" font-size="9.0" text-anchor="middle" font-weight="normal" fill="#000" stroke="#000" stroke-width="0.45" letter-spacing="0.3">200</text>
<text x="374.00" y="418.40" font-size="9.0" text-anchor="middle" font-weight="normal" fill="#000" stroke="#000" stroke-width="0.45" letter-spacing="0.3">0</text>
<rect x="406.40" y="239.80" width="6.90" height="7.30" fill="#fff" stroke="#000" stroke-width="1.4" />
<text x="422.20" y="246.20" font-size="10.6" text-anchor="start" font-weight="bold" fill="#000" stroke="#000" stroke-width="0.35" >CD4</text>
<rect x="457.90" y="239.00" width="8.90" height="8.50" fill="#000" />
<text x="475.00" y="246.20" font-size="10.6" text-anchor="start" font-weight="bold" fill="#000" stroke="#000" stroke-width="0.35" >CD8</text>
<text transform="translate(351.90 343.00) rotate(-90)" font-size="11.8" font-weight="bold" text-anchor="middle" stroke="#000" stroke-width="0.35" >TNF<tspan font-weight="normal" font-family="Liberation Serif" stroke-width="0.35">&#945;</tspan><tspan font-size="7.6" dy="-4">+</tspan><tspan dy="4"> T cells (n / mm</tspan><tspan font-size="7.6" dy="-4">3</tspan><tspan dy="4">)</tspan></text>
<line x1="395.40" y1="343.30" x2="395.40" y2="319.20" stroke="#888" stroke-width="1.15" />
<line x1="393.80" y1="319.20" x2="397.00" y2="319.20" stroke="#888" stroke-width="1.15" />
<line x1="410.20" y1="385.00" x2="410.20" y2="376.40" stroke="#888" stroke-width="1.15" />
<line x1="408.60" y1="376.40" x2="411.80" y2="376.40" stroke="#888" stroke-width="1.15" />
<line x1="428.10" y1="388.00" x2="428.10" y2="380.70" stroke="#888" stroke-width="1.15" />
<line x1="426.50" y1="380.70" x2="429.70" y2="380.70" stroke="#888" stroke-width="1.15" />
<line x1="441.70" y1="374.00" x2="441.70" y2="356.60" stroke="#888" stroke-width="1.15" />
<line x1="440.10" y1="356.60" x2="443.30" y2="356.60" stroke="#888" stroke-width="1.15" />
<line x1="462.00" y1="364.00" x2="462.00" y2="347.50" stroke="#888" stroke-width="1.15" />
<line x1="460.40" y1="347.50" x2="463.60" y2="347.50" stroke="#888" stroke-width="1.15" />
<line x1="476.00" y1="340.00" x2="476.00" y2="312.80" stroke="#888" stroke-width="1.15" />
<line x1="474.40" y1="312.80" x2="477.60" y2="312.80" stroke="#888" stroke-width="1.15" />
<line x1="494.30" y1="340.80" x2="494.30" y2="308.00" stroke="#888" stroke-width="1.15" />
<line x1="492.70" y1="308.00" x2="495.90" y2="308.00" stroke="#888" stroke-width="1.15" />
<line x1="509.00" y1="320.60" x2="509.00" y2="276.80" stroke="#888" stroke-width="1.15" />
<line x1="507.40" y1="276.80" x2="510.60" y2="276.80" stroke="#888" stroke-width="1.15" />
<polygon points="389.10,343.30 400.80,343.30 400.80,416.20 389.10,416.20" fill="#fff" stroke="#000" stroke-width="1.2" stroke-linejoin="miter" />
<polygon points="389.10,343.30 391.10,340.70 402.80,340.70 400.80,343.30" fill="#ccc" stroke="#000" stroke-width="1.2" stroke-linejoin="miter" />
<polygon points="400.80,343.30 402.80,340.70 402.80,416.20 400.80,416.20" fill="#999" stroke="#000" stroke-width="1.2" stroke-linejoin="miter" />
<polygon points="403.30,385.00 417.00,385.00 417.00,416.20 403.30,416.20" fill="#000" stroke="#000" stroke-width="1.2" stroke-linejoin="miter" />
<polygon points="403.30,385.00 405.30,382.20 419.00,382.20 417.00,385.00" fill="#fff" stroke="#000" stroke-width="1.2" stroke-linejoin="miter" />
<polygon points="417.00,385.00 419.00,382.20 419.00,416.20 417.00,416.20" fill="#000" stroke="#000" stroke-width="1.2" stroke-linejoin="miter" />
<line x1="417.20" y1="385.80" x2="417.20" y2="415.20" stroke="#fff" stroke-width="0.5" />
<polygon points="422.30,388.00 434.00,388.00 434.00,416.20 422.30,416.20" fill="#fff" stroke="#000" stroke-width="1.2" stroke-linejoin="miter" />
<polygon points="422.30,388.00 424.30,385.40 436.00,385.40 434.00,388.00" fill="#ccc" stroke="#000" stroke-width="1.2" stroke-linejoin="miter" />
<polygon points="434.00,388.00 436.00,385.40 436.00,416.20 434.00,416.20" fill="#999" stroke="#000" stroke-width="1.2" stroke-linejoin="miter" />
<polygon points="436.50,374.00 449.50,374.00 449.50,416.20 436.50,416.20" fill="#000" stroke="#000" stroke-width="1.2" stroke-linejoin="miter" />
<polygon points="436.50,374.00 438.50,371.20 451.50,371.20 449.50,374.00" fill="#fff" stroke="#000" stroke-width="1.2" stroke-linejoin="miter" />
<polygon points="449.50,374.00 451.50,371.20 451.50,416.20 449.50,416.20" fill="#000" stroke="#000" stroke-width="1.2" stroke-linejoin="miter" />
<line x1="449.70" y1="374.80" x2="449.70" y2="415.20" stroke="#fff" stroke-width="0.5" />
<polygon points="455.50,364.00 467.70,364.00 467.70,416.20 455.50,416.20" fill="#fff" stroke="#000" stroke-width="1.2" stroke-linejoin="miter" />
<polygon points="455.50,364.00 457.50,361.40 469.70,361.40 467.70,364.00" fill="#ccc" stroke="#000" stroke-width="1.2" stroke-linejoin="miter" />
<polygon points="467.70,364.00 469.70,361.40 469.70,416.20 467.70,416.20" fill="#999" stroke="#000" stroke-width="1.2" stroke-linejoin="miter" />
<polygon points="469.50,340.00 483.20,340.00 483.20,416.20 469.50,416.20" fill="#000" stroke="#000" stroke-width="1.2" stroke-linejoin="miter" />
<polygon points="469.50,340.00 471.50,337.20 485.20,337.20 483.20,340.00" fill="#fff" stroke="#000" stroke-width="1.2" stroke-linejoin="miter" />
<polygon points="483.20,340.00 485.20,337.20 485.20,416.20 483.20,416.20" fill="#000" stroke="#000" stroke-width="1.2" stroke-linejoin="miter" />
<line x1="483.40" y1="340.80" x2="483.40" y2="415.20" stroke="#fff" stroke-width="0.5" />
<polygon points="488.40,340.80 500.60,340.80 500.60,416.20 488.40,416.20" fill="#fff" stroke="#000" stroke-width="1.2" stroke-linejoin="miter" />
<polygon points="488.40,340.80 490.40,338.20 502.60,338.20 500.60,340.80" fill="#ccc" stroke="#000" stroke-width="1.2" stroke-linejoin="miter" />
<polygon points="500.60,340.80 502.60,338.20 502.60,416.20 500.60,416.20" fill="#999" stroke="#000" stroke-width="1.2" stroke-linejoin="miter" />
<polygon points="502.20,320.60 515.70,320.60 515.70,416.20 502.20,416.20" fill="#000" stroke="#000" stroke-width="1.2" stroke-linejoin="miter" />
<polygon points="502.20,320.60 504.20,317.80 517.70,317.80 515.70,320.60" fill="#fff" stroke="#000" stroke-width="1.2" stroke-linejoin="miter" />
<polygon points="515.70,320.60 517.70,317.80 517.70,416.20 515.70,416.20" fill="#000" stroke="#000" stroke-width="1.2" stroke-linejoin="miter" />
<line x1="515.90" y1="321.40" x2="515.90" y2="415.20" stroke="#fff" stroke-width="0.5" />
<text x="400.60" y="435.60" font-size="9.2" text-anchor="middle" font-weight="normal" fill="#000" stroke="#000" stroke-width="0.35" >HIV-</text>
<text x="434.30" y="435.60" font-size="9.2" text-anchor="middle" font-weight="normal" fill="#000" stroke="#000" stroke-width="0.35" >M0</text>
<text x="469.30" y="435.60" font-size="9.2" text-anchor="middle" font-weight="normal" fill="#000" stroke="#000" stroke-width="0.35" >M9</text>
<text x="500.80" y="435.60" font-size="9.2" text-anchor="middle" font-weight="normal" fill="#000" stroke="#000" stroke-width="0.35" >M18</text>
<path d="M427.19 369.00L430.25 369.00L430.25 369.75L427.19 369.75ZM428.02 369.00L430.01 369.00L430.01 376.80L428.02 376.80ZM427.44 376.13L430.34 376.13L430.34 376.80L427.44 376.80Z" fill="#000"/>
<path d="M428.27 369.42C426.86 369.42 426.36 370.25 426.36 371.33C426.36 372.40 426.94 373.15 428.27 373.15" fill="none" stroke="#000" stroke-width="0.95"/>
<path d="M473.10 305.60L473.10 303.15M473.10 305.60L475.43 304.84M473.10 305.60L474.54 307.58M473.10 305.60L471.66 307.58M473.10 305.60L470.77 304.84" stroke="#000" stroke-width="1.4" stroke-linecap="round" fill="none"/>
<path d="M493.60 300.80L493.60 298.35M493.60 300.80L495.93 300.04M493.60 300.80L495.04 302.78M493.60 300.80L492.16 302.78M493.60 300.80L491.27 300.04" stroke="#000" stroke-width="1.4" stroke-linecap="round" fill="none"/>
<path d="M506.80 274.90L506.80 272.45M506.80 274.90L509.13 274.14M506.80 274.90L508.24 276.88M506.80 274.90L505.36 276.88M506.80 274.90L504.47 274.14" stroke="#000" stroke-width="1.4" stroke-linecap="round" fill="none"/>
<path d="M477.59 304.11L480.65 304.11L480.65 304.85L477.59 304.85ZM478.42 304.11L480.41 304.11L480.41 311.90L478.42 311.90ZM477.84 311.23L480.74 311.23L480.74 311.90L477.84 311.90Z" fill="#000"/>
<path d="M478.67 304.52C477.26 304.52 476.76 305.35 476.76 306.43C476.76 307.50 477.34 308.25 478.67 308.25" fill="none" stroke="#000" stroke-width="0.95"/>
<path d="M512.29 273.41L515.35 273.41L515.35 274.15L512.29 274.15ZM513.12 273.41L515.11 273.41L515.11 281.20L513.12 281.20ZM512.54 280.53L515.44 280.53L515.44 281.20L512.54 281.20Z" fill="#000"/>
<path d="M513.37 273.82C511.96 273.82 511.46 274.65 511.46 275.73C511.46 276.80 512.04 277.55 513.37 277.55" fill="none" stroke="#000" stroke-width="0.95"/>
</svg>
</body></html>
